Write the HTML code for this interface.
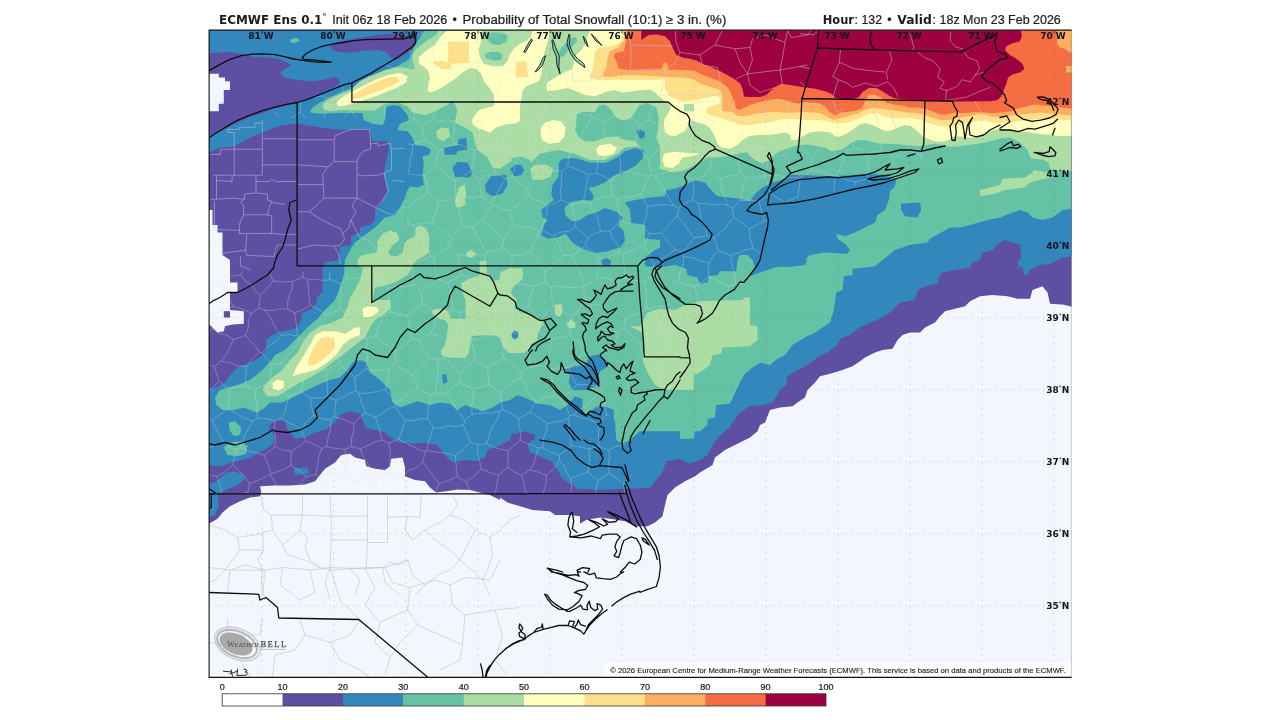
<!DOCTYPE html>
<html lang="en"><head><meta charset="utf-8"><title>ECMWF Ens 0.1 Probability of Total Snowfall</title>
<style>
html,body{margin:0;padding:0;background:#fff;}
body{width:1280px;height:720px;overflow:hidden;position:relative;font-family:"DejaVu Sans","Liberation Sans",sans-serif;}
svg{position:absolute;left:0;top:0;display:block;}
text{font-family:"DejaVu Sans","Liberation Sans",sans-serif;fill:#1c1c1c;}
.t{font-size:12.4px;}
.b{font-weight:bold;}
.ll{font-size:9px;font-weight:bold;fill:#15151f;}
.cb{font-size:9px;fill:#222;}
.cp{font-size:6.6px;fill:#222;}
</style></head><body>
<svg width="1280" height="720" viewBox="0 0 1280 720">
<defs><clipPath id="mapclip"><rect x="209" y="30.5" width="862.5" height="647"/></clipPath></defs>
<rect x="0" y="0" width="1280" height="720" fill="#ffffff"/>
<g clip-path="url(#mapclip)">
<rect x="209" y="30" width="863" height="648" fill="#f3f6fc"/>

<polygon fill="#5e4fa2" points="209.0,523.8 217.5,518.8 222.5,512.5 230.0,506.2 240.0,501.2 250.0,497.5 260.0,496.2 261.2,491.2 260.0,486.2 275.0,485.5 290.0,485.5 305.0,484.5 315.0,481.2 320.0,475.0 325.0,468.8 335.0,462.5 341.2,455.0 350.0,453.8 355.0,457.5 365.0,460.0 366.2,466.2 375.0,468.8 385.0,470.0 390.0,466.2 391.2,458.8 402.5,457.5 405.0,467.5 405.0,476.2 415.0,480.0 425.0,481.2 430.0,487.5 436.2,492.5 446.2,491.2 457.5,489.5 470.0,490.0 480.0,492.5 490.0,495.0 500.0,500.0 500.0,497.5 507.5,502.5 520.0,506.2 532.5,510.0 550.0,511.2 555.0,515.0 570.0,515.0 580.0,516.2 580.0,523.8 586.2,520.0 600.0,517.5 610.0,518.8 625.0,521.2 635.0,526.2 647.5,526.2 655.0,522.5 662.5,516.2 665.0,505.0 667.5,495.0 675.0,487.5 685.0,481.2 695.0,476.2 700.0,472.5 712.5,465.0 715.0,457.5 725.0,450.0 737.5,443.8 750.0,437.5 757.5,431.2 760.0,425.0 765.0,422.5 770.0,410.0 780.0,407.5 780.0,407.5 792.5,406.2 797.5,402.5 805.0,397.5 807.5,390.0 815.0,382.5 820.0,376.2 830.0,373.8 842.5,370.0 852.5,366.2 860.0,361.2 865.0,357.5 875.0,352.5 882.5,350.0 892.5,348.8 897.5,340.0 902.5,335.0 910.0,332.5 920.0,332.5 925.0,327.5 935.0,322.5 940.0,316.2 945.0,311.2 955.0,308.8 965.0,306.2 970.0,301.2 980.0,296.2 992.5,295.0 1007.5,296.2 1017.5,298.8 1030.0,298.8 1032.5,290.0 1042.5,286.2 1047.5,292.5 1050.0,303.8 1062.5,304.5 1075.0,307.5 1075.0,25.0 205.0,25.0 205.0,523.8"/>
<polygon fill="#3288bd" points="205.0,25.0 1075.0,25.0 1075.0,256.2 1062.5,257.5 1050.0,263.8 1040.0,265.0 1030.0,270.0 1027.5,275.0 1030.0,275.0 1023.8,275.0 1022.5,267.5 1013.8,266.2 1020.0,270.0 1017.5,262.5 1021.2,257.5 1020.0,245.0 1005.0,240.0 1000.0,242.5 992.5,250.0 982.5,252.5 980.0,260.0 972.5,262.5 970.0,267.5 955.0,270.0 942.5,272.5 940.0,275.0 937.5,283.8 930.0,285.0 917.5,290.0 915.0,300.0 900.0,302.5 890.0,312.5 880.0,318.8 870.0,322.5 857.5,328.8 850.0,335.0 840.0,338.8 837.5,345.0 827.5,352.5 817.5,357.5 807.5,365.0 797.5,370.0 787.5,376.2 786.2,385.0 780.0,390.0 777.5,395.0 772.5,402.5 762.5,405.0 750.0,406.2 740.0,412.5 732.5,422.5 730.0,427.5 720.0,435.0 712.5,445.0 707.5,455.0 700.0,460.0 690.0,463.8 680.0,458.8 666.2,461.2 662.5,472.5 655.0,481.2 650.0,488.0 625.0,488.8 600.0,490.0 577.5,488.8 572.5,485.0 562.5,478.8 557.5,470.0 552.5,462.5 542.5,457.5 530.0,452.5 527.5,445.0 532.5,438.8 525.0,433.8 515.0,435.0 512.5,432.5 510.0,440.0 500.0,445.0 487.5,450.0 485.0,457.5 475.0,461.2 465.0,460.0 452.5,462.5 445.0,455.0 437.5,445.0 425.0,442.5 415.0,443.8 400.0,442.5 390.0,437.5 385.0,432.5 375.0,430.0 365.0,427.5 363.8,422.5 360.0,413.8 350.0,411.2 340.0,415.0 335.0,422.5 325.0,430.0 325.0,430.0 315.0,432.5 305.0,437.5 295.0,438.8 287.5,430.0 287.5,430.0 285.0,421.2 275.0,420.0 270.0,425.0 268.8,430.0 271.2,430.0 275.0,437.5 272.5,445.0 262.5,451.2 250.0,457.5 232.5,462.5 220.0,466.2 205.0,465.0 205.0,390.0 215.0,387.5 225.0,382.5 230.0,375.0 237.5,367.5 250.0,362.5 260.0,357.5 266.2,350.0 266.2,340.0 272.5,335.0 282.5,331.2 295.0,328.8 300.0,322.5 302.5,312.5 310.0,310.0 316.2,303.8 317.5,296.2 322.5,292.5 322.5,270.0 322.5,270.0 325.0,262.5 338.8,260.0 340.0,246.2 351.2,245.0 351.2,236.2 360.0,232.5 360.0,227.5 370.0,225.0 375.0,220.0 375.0,210.0 380.0,205.0 387.5,192.5 386.2,185.0 383.8,175.0 385.0,165.0 388.8,150.0 387.5,141.2 372.5,141.2 370.0,130.0 360.0,128.8 345.0,130.0 330.0,128.8 312.5,126.2 297.5,123.8 282.5,125.0 265.0,131.2 250.0,137.5 235.0,146.2 220.0,147.5 205.0,154.5"/>
<polygon fill="#3288bd" points="205.0,483.8 215.0,482.5 225.0,473.8 232.5,471.2 242.5,473.8 245.0,478.8 237.5,485.0 225.0,490.0 217.5,495.0 218.8,505.0 215.0,515.0 205.0,518.8"/>
<polygon fill="#3288bd" points="293.8,468.8 307.5,467.5 308.8,473.8 295.0,475.0"/>
<polygon fill="#66c2a5" points="425.0,25.0 425.0,30.0 420.0,37.5 415.0,45.0 412.5,51.2 410.0,58.8 395.0,67.5 385.0,72.5 375.0,77.5 362.5,83.8 350.0,88.8 340.0,92.5 330.0,97.5 320.0,102.5 312.5,107.5 310.0,112.5 320.0,113.8 340.0,113.0 362.5,113.0 363.8,120.0 372.5,123.8 382.5,125.0 385.0,120.0 386.2,107.5 392.5,105.0 400.0,106.2 407.5,115.0 408.8,120.0 400.0,123.8 397.5,130.0 407.5,131.2 412.5,137.5 415.0,145.0 425.0,146.2 431.2,150.0 428.8,155.0 422.5,156.2 423.8,165.0 422.5,175.0 423.8,185.0 417.5,187.5 410.0,186.2 406.2,192.5 405.0,197.5 400.0,207.5 395.0,215.0 385.0,217.5 380.0,222.5 375.0,227.5 365.0,235.0 355.0,242.5 350.0,250.0 345.0,260.0 343.8,275.0 340.0,287.5 335.0,300.0 325.0,310.0 317.5,318.8 310.0,325.0 302.5,332.5 295.0,340.0 285.0,350.0 275.0,355.0 272.5,358.8 262.5,370.0 250.0,380.0 237.5,385.0 227.5,387.5 220.0,390.0 215.0,397.5 216.2,405.0 222.5,410.0 235.0,410.0 243.8,407.5 250.0,410.0 257.5,412.5 265.0,407.5 270.0,402.5 282.5,402.5 292.5,397.5 305.0,391.2 317.5,385.0 330.0,380.0 340.0,377.5 347.5,370.0 352.5,362.5 360.0,360.0 366.2,362.5 370.0,372.5 380.0,380.0 390.0,390.0 392.5,402.5 400.0,407.5 410.0,403.8 417.5,401.2 430.0,405.0 440.0,402.5 450.0,403.8 457.5,410.0 465.0,405.0 472.5,407.5 482.5,411.2 492.5,407.5 500.0,402.5 510.0,400.0 517.5,395.0 527.5,398.8 537.5,403.8 550.0,405.0 560.0,410.0 567.5,405.0 575.0,396.2 582.5,398.8 582.5,410.0 586.2,415.0 595.0,407.5 605.0,406.2 613.8,410.0 613.8,420.0 615.0,420.0 616.2,440.0 622.5,443.8 630.0,440.0 640.0,431.2 680.0,431.2 680.0,438.8 693.8,438.8 695.0,431.2 700.0,431.2 707.5,425.0 707.5,418.8 715.0,417.5 716.2,405.0 730.0,403.8 740.0,382.5 745.0,373.8 752.5,367.5 760.0,362.5 770.0,365.0 777.5,358.8 785.0,355.0 792.5,345.0 805.0,337.5 815.0,332.5 830.0,322.5 833.8,310.0 836.2,292.5 842.5,290.0 843.8,276.2 852.5,275.0 852.5,268.8 865.0,267.5 875.0,266.2 895.0,250.0 910.0,245.0 927.5,242.5 930.0,238.8 950.0,227.5 960.0,227.5 970.0,225.0 987.5,220.0 1000.0,217.5 1012.5,212.5 1020.0,210.0 1027.5,212.5 1032.5,217.5 1042.5,220.0 1052.5,217.5 1062.5,210.0 1075.0,208.8 1075.0,25.0"/>
<polygon fill="#66c2a5" points="228.8,422.5 235.0,421.2 241.2,427.5 240.0,435.0 233.8,436.2 229.5,430.0"/>
<polygon fill="#66c2a5" points="223.8,447.5 230.0,442.5 241.2,441.2 247.5,446.2 246.2,453.8 237.5,456.2 227.5,455.0"/>
<polygon fill="#66c2a5" points="290.0,39.5 296.2,37.5 300.0,40.5 295.0,43.0 290.5,42.0"/>
<polygon fill="#abdda4" points="438.0,25.0 437.5,33.8 430.0,38.8 422.5,43.8 416.2,48.8 412.5,55.0 412.5,61.2 415.0,67.5 412.5,69.4 405.0,67.5 395.0,67.5 385.0,70.0 376.2,73.8 367.5,77.5 360.0,81.2 350.0,90.5 340.0,94.2 330.0,98.8 323.8,103.0 322.5,108.8 330.0,111.2 342.5,110.0 360.0,110.5 375.0,110.5 385.0,103.8 397.5,102.5 407.5,106.2 412.5,112.5 425.0,115.0 435.0,111.2 447.5,105.0 452.5,100.0 457.5,110.0 455.0,122.5 465.0,127.5 472.5,132.5 475.0,142.5 477.5,150.0 487.5,157.5 492.5,167.5 500.0,168.8 512.5,160.0 510.0,158.8 520.0,156.2 530.0,160.0 531.2,162.5 540.0,153.8 557.5,150.0 575.0,153.8 590.0,160.0 605.0,160.0 617.5,153.8 625.0,147.5 640.0,146.2 650.0,150.0 655.0,160.0 660.0,168.8 672.5,172.5 685.0,170.0 697.5,163.8 707.5,157.5 715.0,157.5 727.5,156.3 740.0,153.1 747.5,152.5 750.0,156.3 755.0,160.0 762.0,163.5 770.0,160.0 772.5,156.3 780.0,151.3 790.0,147.5 798.8,145.0 807.5,144.4 817.5,146.3 825.0,147.5 831.3,151.3 840.0,150.0 845.0,147.5 850.0,143.8 856.3,140.6 865.0,140.0 872.5,141.9 881.3,143.8 890.0,143.8 900.0,144.4 910.0,145.6 920.0,146.3 927.5,145.0 935.0,143.8 943.8,145.0 950.0,146.9 958.8,146.3 967.5,145.0 977.5,143.8 987.5,141.9 1000.0,138.5 1010.0,137.5 1020.0,142.5 1027.5,150.0 1031.2,158.8 1042.5,159.5 1048.8,162.5 1050.0,168.8 1060.0,171.2 1075.0,171.2 1075.0,25.0"/>
<polygon fill="#abdda4" points="357.5,260.0 361.2,255.6 370.0,253.8 376.9,252.5 377.5,241.2 382.5,233.8 390.0,230.6 396.2,232.5 399.4,237.5 398.1,241.2 392.5,245.6 388.1,252.5 390.0,255.6 397.5,256.2 402.5,252.5 405.0,242.5 407.5,240.0 415.0,236.2 416.2,226.9 421.2,225.6 426.2,228.8 429.4,236.2 428.8,252.5 423.8,256.2 417.5,259.4 412.5,265.0 411.2,270.0 405.0,273.8 395.0,275.0 392.5,281.2 385.0,285.0 375.0,287.5 370.0,290.0 362.5,290.0 366.2,281.2 367.5,270.0 362.5,267.5 357.5,265.0"/>
<polygon fill="#abdda4" points="262.5,390.0 265.0,385.0 272.5,377.5 282.5,370.0 290.0,360.0 297.5,352.5 302.5,342.5 310.0,332.5 320.0,326.2 332.5,322.5 342.5,317.5 347.5,307.5 350.0,297.5 355.0,290.0 360.0,280.0 362.5,270.0 362.5,260.0 375.0,260.0 390.0,260.0 412.5,267.5 407.5,275.0 395.0,282.5 387.5,285.0 375.0,287.5 372.5,300.0 390.0,300.0 391.2,307.5 385.0,313.8 375.0,320.0 370.0,327.5 365.0,337.5 355.0,345.0 342.5,355.0 332.5,362.5 322.5,370.0 310.0,377.5 300.0,382.5 287.5,390.0 277.5,396.2 267.5,396.2"/>
<polygon fill="#abdda4" points="431.2,310.9 437.5,308.6 445.3,309.4 448.4,312.5 451.6,318.8 465.6,318.8 465.6,301.6 461.7,289.1 460.9,283.6 468.8,278.9 478.1,275.8 479.7,275.0 479.7,260.9 485.9,260.9 486.7,273.4 490.6,275.0 493.8,281.2 500.0,278.9 506.2,273.4 512.5,268.8 521.9,268.0 523.4,275.0 520.3,281.2 514.1,285.9 510.9,292.2 512.5,295.3 517.2,300.0 514.1,307.8 520.3,312.5 529.7,314.1 537.5,318.8 543.8,323.4 540.6,328.1 537.5,334.4 537.5,340.6 531.2,343.8 529.7,350.0 523.4,353.1 509.4,353.1 503.1,346.9 500.0,337.5 493.8,335.2 481.2,335.2 471.9,335.9 470.3,343.8 468.8,353.1 465.6,357.8 451.6,357.8 442.2,356.2 440.6,351.6 445.3,343.8 446.9,334.4 448.4,325.0 445.3,320.3 439.1,318.8 432.8,314.1"/>
<polygon fill="#abdda4" points="466.4,253.9 471.1,250.8 476.6,253.9 471.9,257.0"/>
<polygon fill="#abdda4" points="554.7,304.7 561.7,303.9 562.5,312.5 558.6,317.2 555.0,314.1"/>
<polygon fill="#abdda4" points="566.4,323.4 571.1,319.5 575.8,323.4 575.0,328.1 568.8,328.1"/>
<polygon fill="#abdda4" points="630.0,326.2 640.0,326.2 647.5,312.5 660.0,308.8 675.0,310.0 685.0,305.0 700.0,301.2 742.5,300.0 743.8,297.5 750.0,297.5 750.0,325.0 757.5,326.2 757.5,340.0 750.0,346.2 722.5,347.5 721.2,353.8 712.5,355.0 710.0,365.0 700.0,372.5 693.8,375.0 693.8,390.0 665.0,390.0 655.0,385.0 647.5,372.5 642.5,360.0 645.0,342.5 642.5,332.5"/>
<polygon fill="#abdda4" points="530.0,168.8 535.0,165.0 546.2,164.5 553.0,168.8 551.2,176.2 542.5,180.0 532.5,179.5"/>
<polygon fill="#abdda4" points="980.0,190.0 1000.0,185.0 1002.5,178.8 1025.0,177.5 1035.0,170.0 1047.5,172.5 1050.0,177.5 1030.0,182.5 1025.0,187.5 1005.0,190.0 995.0,193.8 980.0,196.2"/>
<polygon fill="#abdda4" points="436.2,131.2 441.2,127.5 448.8,128.8 450.0,136.2 443.8,141.2 437.5,138.8"/>
<polygon fill="#abdda4" points="455.0,200.0 458.8,187.5 465.0,184.5 466.2,195.0 462.5,206.2 456.2,207.5"/>
<polygon fill="#abdda4" points="466.2,252.5 471.2,250.0 476.2,253.8 472.5,257.5 467.5,257.0"/>
<polygon fill="#abdda4" points="466.2,253.1 471.2,250.6 476.2,253.8 471.9,257.5 467.5,256.2"/>
<polygon fill="#abdda4" points="455.0,202.5 457.5,200.0 465.0,200.0 465.6,204.4 460.0,207.5 456.2,206.2"/>
<polygon fill="#abdda4" points="500.0,272.5 510.0,268.0 521.2,270.0 522.5,280.0 500.0,280.0"/>
<polygon fill="#ffffbf" points="447.5,25.0 447.5,30.0 440.0,37.5 435.0,45.0 425.0,51.2 418.8,57.5 418.8,63.8 425.0,67.5 428.1,71.2 430.0,77.5 428.1,85.0 427.5,91.2 431.2,92.5 440.0,88.8 447.5,83.8 455.0,78.8 462.5,72.5 470.0,68.1 476.2,68.8 481.2,73.8 483.8,81.2 490.0,88.8 493.8,95.0 493.8,106.2 487.5,107.5 478.8,110.0 475.0,115.0 472.0,120.0 473.0,125.0 478.0,128.5 485.0,130.5 490.0,133.0 495.0,128.0 505.0,124.5 515.0,123.5 520.0,121.0 520.0,115.0 520.0,106.2 521.2,100.0 522.5,91.2 526.2,86.2 532.5,83.8 538.8,81.2 541.2,75.0 542.5,66.2 543.8,55.0 546.2,46.2 548.8,37.5 550.0,30.2 550.0,25.0"/>
<polygon fill="#ffffbf" points="590.0,25.0 590.0,30.6 587.5,36.2 585.0,45.0 580.0,51.2 575.0,56.2 573.8,62.5 572.5,68.8 563.8,72.5 557.5,76.2 551.2,80.0 547.5,82.5 546.2,87.5 547.5,91.2 557.5,90.0 567.5,88.1 576.2,91.2 585.0,95.0 595.0,96.2 601.2,93.8 607.5,91.2 615.0,90.0 622.5,92.5 632.5,91.2 642.5,90.0 650.0,89.4 655.0,92.5 658.8,96.2 663.8,100.0 663.6,101.5 668.3,102.5 671.2,107.2 668.3,112.9 664.6,118.5 663.8,125.0 665.0,132.5 670.0,135.5 675.0,136.3 685.0,131.0 689.0,124.0 690.0,120.0 697.5,122.5 706.3,125.0 711.3,130.0 715.0,137.5 717.5,143.8 721.3,147.5 730.0,148.8 737.5,145.0 742.5,140.0 748.8,136.3 757.5,135.0 767.5,135.0 777.5,133.8 786.3,132.5 790.0,135.0 791.3,140.0 796.3,140.0 802.5,136.3 810.0,132.5 820.0,131.3 830.0,132.5 835.0,136.3 840.0,136.8 846.3,133.8 852.5,130.0 858.8,125.0 865.0,123.1 872.5,125.0 880.0,128.8 886.3,131.3 892.5,130.0 898.8,126.9 905.0,125.0 911.3,126.3 917.5,131.3 922.5,136.3 927.5,138.8 935.0,141.3 942.5,141.9 948.8,140.0 952.5,137.5 958.8,136.3 967.5,137.5 975.0,137.5 981.3,135.0 987.5,132.5 993.8,130.0 1000.0,128.8 1020.0,131.0 1040.0,134.0 1060.0,136.0 1075.0,135.8 1075.0,25.0"/>
<polygon fill="#ffffbf" points="541.2,127.5 545.0,122.5 552.5,120.0 561.2,121.2 565.5,127.5 564.5,136.2 558.8,142.5 548.8,143.8 542.0,140.0 540.5,133.8"/>
<polygon fill="#ffffbf" points="596.2,148.8 600.0,145.0 610.0,143.8 617.0,147.5 613.8,153.8 605.0,156.2 597.5,155.0"/>
<polygon fill="#ffffbf" points="663.8,153.8 675.0,151.8 690.0,153.0 700.0,153.8 692.5,156.2 682.5,157.5 678.8,163.8 672.5,168.0 665.0,167.0 662.5,160.0"/>
<polygon fill="#ffffbf" points="336.2,103.8 340.0,98.8 350.0,92.5 362.5,86.2 375.0,80.0 387.5,75.0 400.0,73.0 407.5,76.2 406.2,82.5 397.5,87.5 385.0,92.5 372.5,97.5 360.0,101.2 347.5,105.0 338.8,106.2"/>
<polygon fill="#ffffbf" points="362.5,308.8 367.5,306.2 377.5,307.5 378.8,311.2 372.5,316.2 363.8,317.5"/>
<polygon fill="#ffffbf" points="292.5,376.2 296.2,367.5 302.5,357.5 310.0,345.0 315.0,335.0 322.5,331.2 335.0,331.2 345.0,333.8 355.0,327.5 360.0,327.5 360.0,335.0 350.0,338.8 342.5,345.0 336.2,355.0 327.5,362.5 317.5,368.8 307.5,372.5 300.0,373.8"/>
<polygon fill="#ffffbf" points="272.5,382.5 277.5,379.5 283.8,381.2 283.8,387.5 278.8,390.5 273.0,388.8"/>
<polygon fill="#fee08b" points="624.4,25.0 621.9,41.3 615.0,45.0 607.5,46.9 600.0,47.5 595.0,51.3 593.8,61.3 592.5,70.0 590.0,75.0 591.3,78.8 601.3,80.6 615.0,79.6 632.5,80.0 645.0,80.0 657.5,80.0 665.0,79.0 665.0,88.3 668.3,95.0 673.0,97.8 679.7,100.6 685.3,101.5 696.7,99.7 706.1,97.8 715.5,95.9 720.3,97.8 721.2,102.5 717.4,104.4 709.9,106.3 706.1,109.1 706.1,112.9 711.8,115.7 720.3,117.6 726.9,120.4 734.4,122.2 740.0,125.0 750.0,125.0 760.0,123.5 770.0,122.5 777.5,120.0 787.5,118.8 797.5,119.4 807.5,120.0 817.5,120.0 827.5,121.3 835.0,123.8 840.0,123.5 847.5,122.5 855.0,120.0 861.3,117.5 868.8,113.8 877.5,113.1 885.0,116.3 892.5,118.8 900.0,118.1 907.5,117.5 915.0,118.8 921.3,120.0 927.5,122.5 935.0,125.0 942.5,126.3 950.0,126.3 957.5,125.0 965.0,123.1 975.0,121.3 983.8,120.0 992.5,122.5 1000.0,123.1 1020.0,121.0 1040.0,118.5 1055.0,119.5 1075.0,120.8 1075.0,25.0"/>
<polygon fill="#fee08b" points="352.5,95.0 362.5,88.8 375.0,82.5 387.5,77.5 397.5,77.0 400.0,81.2 392.5,85.5 380.0,90.5 367.5,95.0 357.5,98.8 353.0,98.8"/>
<polygon fill="#fee08b" points="307.5,365.0 310.0,355.0 315.0,345.0 320.0,338.8 327.5,336.2 333.8,338.8 335.0,346.2 330.0,353.8 322.5,360.0 315.0,365.0"/>
<polygon fill="#fee08b" points="448.1,41.9 468.8,41.2 469.4,63.1 451.2,63.8 450.6,68.8 440.0,68.8 440.0,62.5 448.1,61.9"/>
<polygon fill="#fee08b" points="516.2,61.9 526.9,61.2 528.1,76.9 515.6,77.5"/>
<polygon fill="#fee08b" points="432.5,61.9 440.0,60.6 450.0,62.5 451.2,66.2 442.5,67.5 435.0,65.6"/>
<polygon fill="#fdae61" points="625.6,25.0 623.8,41.3 617.5,47.5 610.0,51.3 607.5,57.5 606.3,67.5 603.8,72.5 602.5,76.3 610.0,76.9 620.0,75.4 632.5,75.0 645.0,75.6 657.5,76.3 668.3,77.0 682.5,77.5 692.9,78.9 700.4,83.6 708.0,86.4 715.5,88.3 720.3,90.2 722.2,95.9 722.2,111.0 732.5,111.9 736.3,115.5 745.0,116.3 755.0,114.0 765.0,112.5 775.0,111.9 785.0,112.5 795.0,112.5 802.5,111.9 812.5,112.5 820.0,113.1 827.5,116.9 833.8,120.0 840.0,118.5 850.0,115.6 858.8,113.1 865.0,110.0 872.5,108.1 881.3,108.8 890.0,110.0 898.8,111.3 907.5,112.5 915.0,113.1 925.0,115.0 932.5,117.5 940.0,120.0 948.8,120.0 957.5,118.1 965.0,116.9 975.0,115.0 982.5,113.8 990.0,116.3 1000.0,116.9 1020.0,114.5 1040.0,112.5 1055.0,114.0 1075.0,115.8 1075.0,25.0"/>
<polygon fill="#f46d43" points="627.5,25.0 626.3,41.3 623.8,51.3 615.0,53.1 613.8,56.3 616.3,61.3 618.8,68.8 631.3,70.2 645.0,70.2 661.7,69.6 663.6,62.6 667.2,62.6 668.0,69.6 682.5,70.0 693.8,70.4 701.4,74.2 710.8,77.9 720.3,81.7 727.8,87.4 730.7,93.1 733.4,100.0 736.3,108.5 738.6,110.0 745.0,107.8 750.0,105.0 760.0,101.8 770.0,100.0 777.5,98.8 785.0,100.0 792.5,102.5 798.8,103.8 802.5,101.9 810.0,102.5 818.8,103.1 825.0,106.3 828.8,111.3 835.0,115.6 840.0,112.5 847.5,111.9 856.3,110.6 862.5,107.5 865.0,101.3 868.8,95.0 873.8,94.4 881.3,97.5 886.3,102.5 892.5,104.4 902.5,105.6 910.0,107.5 917.5,107.5 925.0,108.8 932.5,111.3 940.0,114.4 946.3,114.4 955.0,112.5 965.0,113.1 975.0,111.9 983.8,112.5 993.8,113.1 1000.0,112.5 1010.0,111.5 1020.0,108.0 1035.0,104.5 1050.0,106.0 1075.0,109.0 1075.0,72.5 1066.0,72.5 1066.0,66.0 1075.0,66.0 1075.0,53.8 1068.8,51.9 1066.3,49.4 1060.0,47.5 1056.9,43.8 1056.9,25.0"/>
<polygon fill="#9e0142" points="641.3,25.0 641.3,40.0 648.8,35.0 657.5,34.4 665.0,36.3 670.0,41.3 672.5,47.5 676.3,55.0 682.5,57.5 690.0,58.8 696.7,60.5 704.2,64.7 711.8,67.6 720.3,71.3 728.8,76.1 734.4,78.9 740.1,83.6 742.9,90.2 743.9,96.5 748.8,97.0 760.0,96.9 766.3,95.0 770.0,91.3 776.3,86.3 781.3,83.8 790.0,85.0 802.5,86.9 815.0,88.8 825.0,91.3 831.3,93.8 835.0,97.5 842.5,99.6 852.5,99.4 858.8,96.9 862.5,91.9 868.8,88.1 876.3,88.1 882.5,91.3 888.8,95.6 893.8,98.1 902.5,99.4 915.0,100.0 927.5,100.6 942.5,101.5 961.3,101.5 977.5,101.3 990.0,101.3 997.5,100.0 1001.3,96.3 1003.8,90.0 1006.3,83.8 1008.1,77.5 1012.5,74.4 1020.0,72.5 1024.4,68.8 1022.5,63.8 1016.3,58.8 1010.0,55.0 1005.0,50.0 1006.3,46.3 1011.3,43.8 1020.0,41.3 1021.9,36.3 1020.0,25.0"/>
<polygon fill="#5e4fa2" points="205.0,53.8 217.5,52.5 227.5,52.0 240.0,53.8 255.0,57.0 270.0,57.5 282.5,60.0 291.2,65.0 285.0,68.8 280.0,73.0 285.0,78.0 297.5,80.0 312.5,81.2 325.0,79.5 335.0,77.0 339.5,79.5 338.8,84.5 331.2,88.0 322.5,92.0 310.0,98.0 297.5,102.5 285.0,106.2 275.0,108.0 262.5,113.0 250.0,117.0 237.5,122.5 225.0,128.0 215.0,133.0 205.0,137.5"/>
<polygon fill="#5e4fa2" points="330.0,46.2 336.2,42.0 350.0,39.5 365.0,37.0 380.0,34.5 395.0,33.8 408.8,35.5 415.5,39.5 415.5,45.0 410.0,51.2 400.0,57.5 396.2,59.5 391.2,57.5 386.2,52.0 377.5,50.0 362.5,51.0 350.0,52.5 338.8,52.0 332.5,49.5"/>
<polygon fill="#abdda4" points="482.5,28.8 481.2,40.0 478.8,50.0 480.0,57.5 483.8,63.8 492.5,66.2 502.5,66.2 507.5,61.2 510.0,53.8 513.8,48.8 520.0,43.8 527.5,40.0 531.2,36.2 532.5,28.8"/>
<polygon fill="#66c2a5" points="487.5,35.0 492.5,32.5 502.5,32.5 507.5,35.6 506.9,41.2 500.0,45.0 492.5,44.4 488.1,40.6"/>
<polygon fill="#66c2a5" points="484.4,54.4 490.0,51.9 498.8,51.9 502.5,55.0 501.2,60.0 493.8,60.6 486.2,58.8"/>
<polygon fill="#66c2a5" points="561.3,57.5 558.8,52.5 561.3,47.5 567.5,42.5 572.5,37.5 576.3,37.5 576.9,41.3 572.5,46.3 567.5,51.3 563.8,56.3"/>
<polygon fill="#abdda4" points="684.0,104.0 694.0,104.0 694.0,111.5 684.0,111.5"/>
<polygon fill="#66c2a5" points="576.2,123.8 577.0,113.8 582.5,112.0 595.0,112.0 598.8,105.5 605.0,104.5 611.2,110.0 616.2,117.5 622.5,120.5 630.0,118.8 635.0,112.5 638.8,105.5 647.5,103.0 656.2,107.5 658.8,117.5 658.0,130.0 656.2,137.5 660.0,146.2 660.0,167.5 652.5,157.5 648.8,150.0 640.0,146.2 635.0,141.2 625.0,140.0 617.5,136.2 605.0,137.5 595.0,141.2 585.0,141.2 578.8,137.5 575.0,130.0"/>
<polygon fill="#3288bd" points="558.8,162.5 562.5,158.8 575.0,158.0 590.0,162.5 605.0,163.0 615.0,158.8 625.0,151.2 635.0,148.2 643.8,150.0 642.5,158.8 635.0,166.2 622.5,172.5 612.5,176.2 605.0,182.5 596.2,186.2 588.8,188.0 593.8,196.2 592.5,200.5 582.5,200.0 571.2,202.0 564.5,207.5 565.5,215.5 572.0,221.2 580.0,220.0 587.5,215.0 597.5,212.0 605.0,208.0 617.0,212.0 622.5,217.5 618.0,225.0 623.8,231.2 625.0,241.2 620.0,247.5 607.5,251.2 595.0,253.0 582.5,248.8 572.5,242.5 565.5,233.8 557.5,237.5 547.5,238.8 541.2,235.0 543.8,225.0 547.5,220.0 542.5,217.5 541.2,210.0 547.5,205.0 553.8,200.0 551.2,195.0 552.5,185.0 558.8,176.2"/>
<polygon fill="#3288bd" points="625.0,202.5 635.0,200.0 650.0,197.5 665.0,196.2 666.2,190.0 675.0,188.8 685.0,185.0 695.0,180.0 705.0,182.5 710.0,188.8 717.5,196.2 730.0,197.5 740.0,198.8 750.0,201.2 755.0,193.8 762.5,187.5 772.5,182.5 782.5,180.0 790.0,175.0 805.0,175.0 830.0,176.2 855.0,175.0 870.0,173.8 885.0,175.0 896.2,180.0 895.0,186.2 890.0,191.2 888.8,200.0 885.0,210.0 877.5,215.0 875.0,222.5 865.0,227.5 855.0,232.5 845.0,236.2 836.2,233.8 837.5,238.8 845.0,243.8 850.0,250.0 847.5,253.8 825.0,252.5 810.0,255.0 805.0,260.0 790.0,266.2 805.0,262.5 792.5,265.0 775.0,267.5 760.0,272.5 750.0,276.2 755.0,267.5 752.5,260.0 747.5,255.0 740.0,255.0 737.5,260.0 736.2,271.2 720.0,271.2 717.5,275.0 708.8,276.2 707.5,282.5 700.0,283.8 697.5,277.5 687.5,275.0 686.2,268.8 675.0,265.0 660.0,267.5 645.0,266.2 645.0,257.5 655.0,250.0 660.0,247.5 660.0,240.0 645.0,238.8 645.0,225.0 631.2,223.8 630.0,210.0"/>
<polygon fill="#3288bd" points="900.8,203.8 920.0,202.5 921.2,210.0 917.5,217.5 905.0,216.2 901.2,210.0"/>
<polygon fill="#3288bd" points="780.0,260.0 807.5,260.0 805.0,265.0 790.0,267.0 780.0,266.2"/>
<polygon fill="#3288bd" points="511.2,168.8 515.0,164.5 521.2,165.0 524.2,170.0 521.2,175.0 513.8,176.2"/>
<polygon fill="#3288bd" points="500.0,175.0 506.2,176.2 503.8,185.0 500.0,191.2 495.0,182.5"/>
<polygon fill="#3288bd" points="636.2,131.2 640.0,129.5 645.0,132.5 644.5,138.0 640.0,138.8"/>
<polygon fill="#3288bd" points="601.2,260.0 606.2,257.5 611.2,261.2 610.0,266.2 602.5,265.5"/>
<polygon fill="#3288bd" points="443.8,147.5 457.5,145.5 458.8,138.8 466.2,138.0 467.5,149.5 457.5,151.2 456.2,154.5 445.0,155.0"/>
<polygon fill="#3288bd" points="452.5,167.5 457.5,162.0 467.5,162.5 472.5,172.5 470.0,177.5 455.0,177.0"/>
<polygon fill="#3288bd" points="485.0,185.0 491.2,176.2 506.2,175.0 507.5,185.0 502.5,193.8 492.5,196.2 486.2,192.5"/>
<polygon fill="#3288bd" points="510.0,168.8 516.2,164.5 521.2,166.2 521.2,173.8 513.8,176.2"/>
<polygon fill="#3288bd" points="563.8,370.0 575.0,366.2 585.0,365.0 590.0,356.2 598.8,354.5 606.2,360.0 606.2,367.5 600.0,371.2 597.5,380.0 598.8,385.0 587.5,390.0 572.5,390.0 568.8,382.5 570.0,375.0"/>
<polygon fill="#3288bd" points="442.0,375.0 446.2,373.8 447.5,382.5 443.0,383.8"/>
<polygon fill="#3288bd" points="511.7,332.8 514.8,330.5 518.8,332.8 518.0,337.5 514.1,339.4 511.7,336.7"/>
<polygon fill="#5e4fa2" points="512.5,440.0 515.0,433.8 525.0,431.2 535.0,435.0 535.0,440.0"/>
<polygon fill="#f3f6fc" points="205.0,73.8 218.8,73.8 218.8,77.5 225.0,77.5 225.0,81.2 230.0,81.2 230.0,90.0 223.8,90.0 223.8,103.8 218.8,103.8 218.8,111.2 205.0,111.2"/>
<polygon fill="#f3f6fc" points="205.0,210.0 212.5,210.0 212.5,225.0 217.5,225.0 217.5,232.5 222.5,232.5 222.5,255.0 230.0,260.0 230.0,280.0 205.0,280.0"/>
<polygon fill="#f3f6fc" points="205.0,260.0 230.0,260.0 230.0,282.5 237.5,282.5 237.5,292.5 230.0,292.5 230.0,310.0 243.8,311.2 243.8,323.8 232.5,324.5 225.0,326.2 223.8,331.2 217.5,332.5 210.0,325.0 205.0,325.0"/>
<polygon fill="#5e4fa2" points="223.8,311.2 230.0,311.2 230.0,317.5 223.8,317.5"/>
<g stroke="#20242f" stroke-opacity="0.17" stroke-width="0.8" stroke-dasharray="2 4" fill="none"><line x1="261.8" y1="30" x2="261.8" y2="678"/><line x1="333.8" y1="30" x2="333.8" y2="678"/><line x1="405.8" y1="30" x2="405.8" y2="678"/><line x1="477.8" y1="30" x2="477.8" y2="678"/><line x1="549.8" y1="30" x2="549.8" y2="678"/><line x1="621.8" y1="30" x2="621.8" y2="678"/><line x1="693.8" y1="30" x2="693.8" y2="678"/><line x1="765.8" y1="30" x2="765.8" y2="678"/><line x1="837.8" y1="30" x2="837.8" y2="678"/><line x1="909.8" y1="30" x2="909.8" y2="678"/><line x1="981.8" y1="30" x2="981.8" y2="678"/><line x1="1053.8" y1="30" x2="1053.8" y2="678"/><line x1="209" y1="101.8" x2="1072" y2="101.8"/><line x1="209" y1="173.8" x2="1072" y2="173.8"/><line x1="209" y1="245.8" x2="1072" y2="245.8"/><line x1="209" y1="317.8" x2="1072" y2="317.8"/><line x1="209" y1="389.8" x2="1072" y2="389.8"/><line x1="209" y1="461.8" x2="1072" y2="461.8"/><line x1="209" y1="533.8" x2="1072" y2="533.8"/><line x1="209" y1="605.8" x2="1072" y2="605.8"/></g>
<g stroke="#d8dbe8" stroke-opacity="0.42" stroke-width="0.75" fill="none" stroke-linejoin="round"><path d="M356.7 118.0 L355.7 117.2 L351.4 110.5 M351.4 110.5 L343.6 117.5 L343.3 118.0 M664.9 392.8 L660.0 389.9 M683.2 367.5 L683.5 361.7 M660.0 389.9 L659.5 380.8 L660.0 371.7 L658.6 362.7 M683.5 361.7 L675.4 358.7 L666.9 357.7 M658.6 362.7 L666.9 357.7 M642.2 354.4 L640.0 343.5 M642.2 354.4 L650.3 358.7 L658.6 362.7 M640.0 343.5 L647.3 339.6 L653.6 334.1 L660.8 330.0 M666.9 357.7 L667.6 349.3 L669.5 341.1 L671.5 332.9 M671.5 332.9 L660.8 330.0 M527.0 494.0 L524.7 489.2 L524.0 481.9 L521.1 475.3 M521.1 475.3 L530.0 469.9 M543.0 493.6 L545.8 484.6 L546.5 475.2 M546.5 475.2 L538.4 472.2 L530.0 469.9 M653.3 275.9 L655.7 276.3 M674.0 280.8 L676.9 281.9 M653.3 275.9 L644.1 282.0 M650.2 309.2 L656.7 306.4 L664.1 306.6 L670.2 303.5 M650.2 309.2 L646.6 307.6 M646.6 307.6 L646.4 299.0 L646.1 290.4 L644.1 282.0 M640.0 343.5 L635.3 337.7 L629.5 333.3 L623.5 329.0 M623.5 329.0 L625.8 319.0 M660.8 330.0 L658.3 322.6 L654.8 315.6 L650.2 309.2 M646.6 307.6 L640.1 312.2 L632.9 315.6 L625.8 319.0 M322.1 95.9 L315.2 97.2 L313.5 97.7 M322.1 95.9 L325.7 97.7 M325.7 97.7 L326.2 106.0 L324.7 114.2 L324.2 118.0 M300.1 112.1 L300.9 102.5 M300.1 112.1 L305.3 118.0 M351.4 110.5 L351.7 99.2 M325.7 97.7 L334.6 96.8 L343.6 95.9 M351.7 99.2 L343.6 95.9 M412.6 144.5 L407.0 143.6 M412.6 144.5 L412.3 152.0 L410.2 159.2 L409.6 166.6 L408.0 173.9 M424.3 175.4 L430.8 170.5 L436.5 164.8 M424.3 175.4 L416.1 174.9 L408.0 173.9 M436.5 164.8 L436.7 157.6 L439.3 151.0 M439.3 151.0 L432.8 144.6 L424.8 140.2 M424.8 140.2 L412.6 144.5 M642.2 354.4 L636.4 360.9 L629.8 366.5 M623.5 329.0 L618.3 331.9 M618.3 331.9 L615.7 340.3 L614.0 349.0 L613.3 350.6 M615.7 360.5 L616.6 361.1 L623.8 362.5 L629.8 366.5 M636.5 394.0 L628.0 388.1 M636.5 394.0 L644.3 392.2 L652.4 392.5 L660.0 389.9 M629.8 366.5 L630.4 373.8 L627.4 380.8 L628.0 388.1 M608.8 449.8 L609.7 457.6 L608.3 465.5 L609.5 473.3 M608.8 449.8 L617.9 445.9 L625.8 444.5 M609.5 473.3 L616.4 478.3 L623.7 482.8 M623.7 482.8 L631.2 476.4 L632.4 474.8 M689.7 358.4 L683.5 361.7 M678.6 281.3 L686.2 284.5 L694.3 286.7 M694.3 286.7 L696.9 293.4 L697.9 300.7 L701.0 307.3 M701.0 307.3 L695.6 310.1 M671.5 332.9 L681.9 328.7 M689.5 335.4 L688.8 334.6 L681.9 328.7 M681.9 328.7 L683.1 324.1 M360.5 448.9 L351.7 446.7 M360.5 448.9 L367.6 445.8 L374.4 442.0 L382.0 440.0 M351.7 446.7 L351.4 439.0 L353.8 431.5 L353.8 423.8 M375.2 417.2 L378.0 424.7 L380.3 432.2 L382.0 440.0 M375.2 417.2 L365.7 413.2 M365.7 413.2 L359.0 417.6 L353.8 423.8 M436.2 393.2 L436.4 384.8 L438.2 376.4 L437.5 367.9 L438.8 359.6 M436.2 393.2 L445.1 393.3 M445.1 393.3 L452.0 387.5 L459.8 382.9 M443.8 358.0 L438.8 359.6 M443.8 358.0 L449.8 362.5 L454.3 368.7 L460.2 373.5 M460.2 373.5 L459.8 382.9 M498.6 475.3 L489.9 472.5 L481.5 469.1 M498.6 475.3 L496.6 484.3 L495.5 493.6 M495.5 493.6 L492.4 494.0 M481.5 469.1 L474.1 476.0 L465.8 481.8 M465.8 481.8 L468.7 488.3 L470.7 494.0 M521.1 475.3 L514.2 471.9 L508.1 467.2 M508.1 467.2 L498.6 475.3 M508.1 467.2 L507.9 458.9 L508.2 450.5 M530.0 469.9 L534.1 463.1 L535.9 455.2 L538.9 447.9 M508.2 450.5 L514.0 445.1 L520.2 440.5 M520.2 440.5 L529.4 444.6 L538.9 447.9 M477.5 444.8 L486.8 443.5 M477.5 444.8 L470.2 442.0 M486.8 443.5 L489.1 435.0 L492.3 427.0 L497.5 419.7 L499.7 411.3 M470.2 442.0 L466.8 433.5 L463.5 424.9 M499.7 411.3 L490.6 413.2 L481.2 413.1 L472.0 414.5 M472.0 414.5 L464.8 420.5 M464.8 420.5 L463.5 424.9 M508.2 450.5 L500.7 449.3 L493.6 446.9 L486.8 443.5 M481.5 469.1 L479.6 461.1 L477.7 453.1 L477.5 444.8 M474.1 389.4 L467.0 386.0 L459.8 382.9 M474.1 389.4 L473.2 397.8 L471.7 406.1 L472.0 414.5 M445.1 393.3 L450.9 399.5 L454.4 407.3 L460.1 413.6 L464.8 420.5 M433.1 427.8 L440.8 428.2 L448.2 425.5 L456.0 426.7 L463.5 424.9 M433.1 427.8 L427.8 418.9 M436.2 393.2 L431.0 395.2 M427.8 418.9 L427.8 410.8 L429.9 403.1 L431.0 395.2 M625.8 319.0 L621.4 312.5 M644.1 282.0 L634.3 280.7 L625.0 277.8 M625.0 277.8 L620.3 280.9 M620.3 280.9 L617.7 288.8 L617.0 294.8 M618.3 331.9 L613.6 331.6 M600.7 304.3 L599.5 304.2 L591.2 304.8 M592.4 312.6 L591.2 304.8 M583.2 352.8 L580.8 343.1 M583.2 352.8 L588.1 356.3 M585.0 340.6 L580.8 343.1 M503.7 239.4 L499.2 233.9 L493.3 229.8 L488.1 225.1 L483.3 219.9 M503.7 239.4 L502.7 247.3 M502.7 247.3 L495.3 250.8 L487.2 252.3 M487.2 252.3 L482.7 246.3 L478.8 240.0 L476.1 232.9 L472.1 226.6 M472.1 226.6 L483.3 219.9 M436.5 164.8 L442.9 170.3 L448.5 176.7 L455.8 181.2 M453.9 143.9 L446.3 146.9 L439.3 151.0 M453.9 143.9 L461.1 144.9 L467.6 148.2 L474.4 150.4 M455.8 181.2 L462.9 176.0 L470.4 171.3 M470.4 171.3 L472.7 164.5 L474.0 157.6 L474.4 150.4 M580.8 343.1 L569.6 335.3 M591.2 304.8 L586.9 302.0 M586.9 302.0 L581.0 306.3 L577.0 312.8 L570.7 316.8 M569.6 335.3 L571.0 326.1 L570.7 316.8 M648.9 159.4 L643.3 154.2 L639.6 147.3 L633.5 142.5 M648.9 159.4 L655.3 152.9 L661.2 146.0 L667.9 139.9 M633.5 142.5 L638.1 134.0 L640.4 124.6 M640.4 124.6 L649.0 120.1 M649.0 120.1 L655.4 123.6 L661.5 127.7 M667.9 139.9 L661.5 127.7 M742.6 123.6 L742.6 134.0 L744.7 144.2 M742.6 123.6 L748.9 120.4 L756.0 119.2 L762.5 116.6 M762.5 116.6 L768.3 122.7 L774.6 128.3 M774.6 128.3 L771.6 135.9 L769.1 143.7 L765.0 150.8 M744.7 144.2 L751.2 147.4 L758.5 147.8 L765.0 150.8 M384.3 118.0 L384.5 109.8 L384.8 100.4 M351.7 99.2 L360.1 96.0 L367.4 90.6 M367.4 90.6 L376.4 94.9 L384.8 100.4 M407.0 122.7 L408.0 122.3 L414.8 118.4 M384.8 100.4 L392.2 99.1 L398.9 95.7 M398.9 95.7 L405.1 99.6 L412.0 101.6 M412.0 101.6 L414.0 109.9 L414.8 118.4 M424.8 140.2 L422.8 133.1 L422.7 125.7 M414.8 118.4 L422.7 125.7 M252.3 421.2 L243.8 417.9 L236.1 413.1 L228.0 409.1 M252.3 421.2 L249.2 427.8 L245.5 434.0 L242.8 440.7 L240.6 447.6 M223.6 442.4 L219.7 435.1 L215.5 427.9 L212.3 420.2 M223.6 442.4 L229.5 447.1 L236.5 449.7 M212.3 420.2 L220.0 414.4 L228.0 409.1 M236.5 449.7 L240.6 447.6 M209.0 448.2 L215.6 445.5 L223.6 442.4 M209.0 419.5 L212.3 420.2 M209.0 390.4 L212.1 388.4 L218.8 381.3 M229.2 389.3 L218.8 381.3 M229.2 389.3 L229.3 399.2 L228.0 409.1 M351.7 446.7 L345.3 449.3 M345.3 449.3 L335.9 448.5 L326.6 446.5 M353.8 423.8 L344.2 419.7 L334.3 416.6 M334.3 416.6 L330.6 420.0 M326.6 446.5 L328.1 437.7 L330.6 429.0 L330.6 420.0 M327.9 396.4 L319.2 398.1 L310.4 398.0 M327.9 396.4 L336.0 400.5 M310.4 398.0 L311.4 406.8 L313.5 415.5 M336.0 400.5 L335.1 408.5 L334.3 416.6 M330.6 420.0 L321.9 418.5 L313.5 415.5 M229.2 389.3 L236.9 386.6 L245.1 385.7 M245.1 385.7 L255.0 390.1 M252.3 421.2 L257.7 418.2 M255.0 390.1 L255.6 397.1 L256.8 404.1 L256.5 411.2 L257.7 418.2 M326.5 369.7 L318.3 369.4 L310.0 369.4 M326.5 369.7 L338.8 364.2 M338.8 364.2 L339.7 350.3 M339.7 350.3 L332.4 344.5 L324.3 340.1 L316.0 335.9 M316.0 335.9 L305.2 340.2 M310.0 369.4 L307.7 362.2 L308.3 354.6 L307.4 347.3 L305.2 340.2 M218.8 381.3 L216.7 373.8 L214.3 366.5 M246.4 366.6 L237.7 365.7 L229.6 362.5 L221.0 361.3 M246.4 366.6 L246.0 376.2 L245.1 385.7 M221.0 361.3 L214.3 366.5 M209.6 364.6 L214.3 366.5 M623.7 482.8 L624.9 494.0 M598.2 376.4 L598.5 378.3 L598.6 385.7 M628.0 388.1 L622.6 389.5 M598.6 385.7 L602.2 390.7 M583.2 352.8 L576.8 361.0 L568.6 367.5 M568.6 367.5 L572.1 376.4 L576.7 384.8 M598.6 385.7 L591.3 385.4 L584.0 384.5 L576.7 384.8 M606.4 414.4 L605.0 406.7 L605.2 401.0 M606.4 414.4 L598.2 423.5 M598.2 423.5 L590.1 419.8 L581.4 417.8 L573.0 414.8 M602.2 390.7 L596.1 395.2 L591.0 400.9 L585.3 405.9 L578.9 410.0 L573.0 414.8 M608.8 449.8 L599.0 446.4 M606.4 414.4 L608.8 415.3 M599.0 446.4 L598.3 438.8 L598.7 431.1 L598.2 423.5 M636.5 394.0 L636.3 403.9 M701.0 307.3 L708.4 309.4 L713.5 311.1 M347.6 493.3 L353.6 482.6 M346.1 471.4 L336.8 472.5 L327.6 474.1 L318.7 477.0 M346.1 471.4 L353.6 482.6 M318.7 477.0 L323.3 485.9 L327.7 494.0 M372.7 476.9 L363.2 479.8 L353.6 482.6 M372.7 476.9 L375.4 477.7 M375.4 477.7 L376.0 486.5 L376.7 494.0 M315.9 474.4 L317.5 465.6 L318.7 456.8 L321.9 448.5 M315.9 474.4 L318.7 477.0 M345.3 449.3 L345.9 456.7 L345.6 464.1 L346.1 471.4 M321.9 448.5 L326.6 446.5 M360.5 448.9 L362.8 456.2 L367.6 462.4 L369.3 470.1 L372.7 476.9 M375.2 417.2 L381.9 413.8 L388.0 408.9 L395.2 406.3 M382.0 440.0 L388.8 443.0 M405.0 420.4 L399.7 413.7 L395.2 406.3 M405.0 420.4 L402.1 430.0 L398.7 439.4 M388.8 443.0 L398.7 439.4 M375.4 477.7 L382.6 474.0 L390.5 472.1 M388.8 443.0 L390.3 450.2 L390.0 457.5 L389.8 464.9 L390.5 472.1 M407.9 494.0 L406.4 486.0 L402.4 476.8 M390.5 472.1 L402.4 476.8 M549.7 369.7 L559.0 367.5 L568.6 367.5 M549.7 369.7 L551.8 378.2 L553.0 386.9 L554.0 395.6 M576.7 384.8 L571.9 390.2 L566.0 394.3 L560.5 398.9 M554.0 395.6 L560.5 398.9 M573.0 414.8 L569.9 415.4 M560.5 398.9 L566.0 406.7 L569.9 415.4 M518.9 418.6 L529.7 412.2 M518.9 418.6 L511.1 413.4 L502.4 409.7 M502.4 409.7 L501.4 401.1 L500.2 392.5 M535.7 402.2 L529.7 412.2 M535.7 402.2 L531.9 396.0 L527.2 390.3 L525.1 383.0 L520.7 377.1 M520.7 377.1 L513.4 381.5 L506.8 387.1 L500.2 392.5 M520.2 440.5 L520.7 433.1 L519.2 425.9 L518.9 418.6 M538.9 447.9 L542.8 447.9 M542.8 447.9 L543.0 439.6 L546.1 431.9 L547.2 423.7 M547.2 423.7 L539.0 417.1 L529.7 412.2 M499.7 411.3 L502.4 409.7 M474.1 389.4 L481.5 386.8 L489.2 384.9 M489.2 384.9 L500.2 392.5 M547.2 423.7 L554.4 421.9 L561.9 421.1 L568.8 418.2 M554.0 395.6 L544.5 398.0 L535.7 402.2 M568.8 418.2 L569.9 415.4 M571.1 445.9 L580.1 446.7 L588.9 449.0 M571.1 445.9 L565.6 450.8 L559.4 454.6 M588.9 449.0 L589.6 456.7 L589.1 464.4 L588.0 472.0 M559.3 460.3 L559.4 454.6 M559.3 460.3 L564.0 465.9 L566.7 472.6 L570.5 478.8 M570.5 478.8 L579.2 475.1 L588.0 472.0 M599.0 446.4 L588.9 449.0 M568.8 418.2 L568.9 427.5 L570.2 436.7 L571.1 445.9 M542.8 447.9 L550.8 452.0 L559.4 454.6 M609.5 473.3 L597.8 480.5 M597.8 480.5 L588.0 472.0 M546.5 475.2 L553.8 468.5 L559.3 460.3 M570.7 493.7 L571.7 486.2 L570.5 478.8 M503.7 239.4 L508.2 231.5 L514.6 225.0 M514.6 225.0 L511.3 218.2 L509.8 210.7 M483.3 219.9 L487.6 212.3 L491.6 204.5 M491.6 204.5 L500.5 208.3 L509.8 210.7 M514.6 225.0 L523.0 227.3 L531.7 227.8 L539.9 231.0 M541.6 229.9 L543.8 222.1 L546.6 214.3 L547.3 206.1 M547.3 206.1 L541.7 201.3 L534.3 199.8 L528.8 195.1 M509.8 210.7 L516.9 206.5 L522.3 200.1 L528.8 195.1 M620.3 280.9 L612.5 280.7 L605.1 277.6 L597.3 277.7 M586.9 302.0 L584.0 294.2 L583.7 285.9 M597.3 277.7 L591.4 282.4 L584.2 284.9 M583.7 285.9 L575.4 287.5 L567.2 287.7 L558.8 285.9 L550.6 287.1 M570.7 316.8 L562.6 310.5 L553.7 305.6 M550.6 287.1 L551.4 296.5 L553.7 305.6 M549.7 369.7 L546.0 366.6 M569.6 335.3 L561.3 337.2 L552.9 339.0 M552.9 339.0 L550.2 345.7 L549.9 352.9 L547.0 359.5 L546.0 366.6 M274.8 446.3 L282.8 450.0 L291.4 451.5 M274.8 446.3 L275.7 437.8 L273.9 429.3 L275.2 420.8 M275.2 420.8 L281.6 417.9 M281.6 417.9 L287.5 422.7 L294.8 425.2 L300.9 429.6 M291.4 451.5 L299.0 446.6 L305.9 440.7 M305.9 440.7 L300.9 429.6 M290.8 465.4 L284.5 469.0 L277.8 471.7 L270.8 473.7 M290.8 465.4 L291.4 451.5 M264.5 455.5 L274.8 446.3 M264.5 455.5 L268.0 464.5 L270.8 473.7 M264.5 455.5 L256.7 452.6 L248.3 451.1 L240.6 447.6 M257.7 418.2 L266.6 418.7 L275.2 420.8 M306.2 476.7 L299.0 470.4 L290.8 465.4 M306.2 476.7 L315.9 474.4 M321.9 448.5 L314.1 444.3 L305.9 440.7 M313.5 415.5 L306.4 421.8 L300.9 429.6 M295.7 494.0 L293.9 492.5 M293.9 492.5 L290.2 494.0 M306.2 476.7 L299.8 484.5 L293.9 492.5 M270.5 474.6 L274.6 482.1 L279.1 489.4 L281.6 494.0 M729.6 286.5 L735.6 283.0 M729.6 286.5 L722.4 283.9 L716.0 279.5 L708.7 277.0 M735.6 283.0 L735.1 276.0 L733.0 269.2 L731.8 262.3 L730.5 255.4 M708.7 277.0 L708.1 269.9 L709.2 262.9 M709.2 262.9 L713.1 256.1 L718.4 250.4 M718.4 250.4 L730.5 255.4 M744.0 283.5 L735.6 283.0 M725.5 301.6 L726.2 294.4 L729.6 286.5 M694.3 286.7 L701.6 282.1 L708.7 277.0 M761.8 255.1 L753.0 248.1 M753.0 248.1 L745.3 250.0 L738.1 253.2 L730.5 255.4 M683.7 256.6 L683.1 265.0 L679.9 273.0 L678.6 281.3 M683.7 256.6 L692.4 257.7 L700.7 260.9 L709.2 262.9 M749.4 228.7 L750.0 238.7 L753.0 248.1 M749.4 228.7 L741.9 222.8 L733.8 217.7 M714.5 238.5 L719.1 233.1 L725.0 228.9 L729.0 222.9 L733.8 217.7 M714.5 238.5 L718.4 250.4 M732.3 116.1 L742.6 123.6 M732.3 116.1 L732.9 105.9 M767.6 103.6 L762.5 116.6 M767.6 103.6 L764.4 100.0 M732.9 105.9 L736.2 100.0 M653.3 101.7 L651.0 110.9 L649.0 120.1 M653.3 101.7 L656.0 100.0 M661.5 127.7 L670.6 124.2 L678.9 119.1 M679.6 100.0 L680.0 103.4 L678.2 111.3 L678.9 119.1 M343.6 95.9 L342.7 87.2 L342.5 86.6 M412.0 101.6 L418.1 97.6 L424.8 94.9 M422.7 125.7 L433.0 119.0 M424.8 94.9 L436.7 98.7 M433.0 119.0 L435.9 109.1 L436.7 98.7 M453.9 143.9 L453.5 136.6 L454.6 129.2 L454.5 121.9 M433.0 119.0 L440.0 121.2 L447.5 119.6 L454.5 121.9 M402.9 70.8 L401.9 79.2 L399.0 87.2 L398.9 95.7 M402.9 70.8 L411.5 65.9 M424.8 94.9 L424.1 86.5 L424.2 78.1 L425.4 69.8 M411.5 65.9 L418.8 66.8 L425.4 69.8 M327.9 396.4 L327.3 387.5 L326.3 378.7 L326.5 369.7 M338.8 364.2 L347.3 370.1 L354.7 377.5 M336.0 400.5 L342.6 397.3 L349.1 393.8 L355.7 390.8 M354.7 377.5 L355.7 390.8 M365.7 413.2 L361.9 403.4 L358.6 393.5 M358.6 393.5 L355.7 390.8 M405.0 420.4 L412.7 420.8 L420.2 418.4 L427.8 418.9 M431.0 395.2 L424.3 391.9 L417.6 388.7 M395.2 406.3 L396.1 402.7 M417.6 388.7 L409.7 392.3 L403.5 398.4 L396.1 402.7 M438.8 359.6 L429.8 357.7 M429.8 357.7 L424.2 363.6 L418.0 369.0 L412.2 374.7 M417.6 388.7 L416.0 381.2 L412.2 374.7 M358.6 393.5 L367.7 393.0 L376.6 391.7 L385.4 389.5 M396.1 402.7 L390.4 396.3 L385.4 389.5 M310.4 398.0 L300.4 391.7 M310.0 369.4 L304.2 374.9 M304.2 374.9 L303.5 383.5 L300.4 391.7 M281.6 417.9 L285.2 411.4 L286.5 404.0 L289.3 397.2 M300.4 391.7 L289.3 397.2 M255.0 390.1 L262.1 386.1 L269.6 382.9 M289.3 397.2 L283.2 391.8 L276.8 386.7 L269.6 382.9 M273.0 280.9 L267.0 288.4 L260.4 295.5 M273.0 280.9 L282.8 281.9 L292.6 281.4 M292.6 281.4 L292.2 288.5 L289.6 295.2 L287.7 302.0 L287.7 309.1 M260.4 295.5 L258.8 308.0 M258.8 308.0 L264.0 310.0 M264.0 310.0 L272.0 310.7 L279.8 308.8 L287.7 309.1 M259.5 352.0 L255.4 346.1 L250.4 340.8 L245.7 335.4 M259.5 352.0 L252.3 358.7 L246.4 366.6 M221.0 361.3 L226.1 354.6 L230.1 347.4 L233.1 339.6 M245.7 335.4 L233.1 339.6 M240.7 274.8 L232.8 276.0 L225.3 278.8 M240.7 274.8 L244.9 280.7 L251.2 284.5 L255.2 290.6 L260.4 295.5 M222.3 282.0 L225.3 278.8 M222.3 282.0 L226.2 290.1 L229.2 298.6 L233.6 306.5 M258.8 308.0 L251.6 313.3 M233.6 306.5 L242.8 309.3 L251.6 313.3 M597.8 480.5 L596.0 490.1 L594.7 494.0 M625.0 277.8 L624.7 269.8 L623.7 261.9 L622.8 254.1 M598.6 259.6 L598.1 268.6 L597.3 277.7 M598.6 259.6 L606.1 258.1 L612.9 254.9 L619.8 251.8 M622.8 254.1 L619.8 251.8 M601.0 231.1 L598.9 223.9 L596.8 216.7 L592.2 210.5 L590.2 203.3 M601.0 231.1 L610.2 231.1 M590.2 203.3 L597.0 199.4 L604.3 196.7 L612.0 195.1 M617.0 199.4 L612.0 195.1 M617.0 199.4 L618.0 206.7 L619.8 213.9 L619.6 221.3 M619.6 221.3 L610.2 231.1 M683.7 256.6 L682.1 251.9 M682.1 251.9 L689.1 245.6 L694.3 237.8 M714.5 238.5 L706.6 235.7 M694.3 237.8 L706.6 235.7 M588.6 174.8 L596.6 173.3 M588.6 174.8 L586.6 183.8 L585.1 192.8 L583.3 201.8 M583.3 201.8 L590.2 203.3 M612.0 195.1 L610.5 181.4 M596.6 173.3 L604.1 176.4 L610.5 181.4 M575.1 146.6 L583.5 146.5 L591.8 148.0 L600.1 149.0 M575.1 146.6 L580.2 139.6 L583.4 131.5 L587.7 124.0 L591.7 116.4 M603.3 122.6 L591.7 116.4 M603.3 122.6 L604.0 130.1 L605.3 137.5 L607.5 144.8 M607.5 144.8 L600.1 149.0 M633.5 142.5 L626.2 145.9 L618.6 148.5 M640.4 124.6 L634.2 120.1 L626.9 117.6 L620.3 114.0 M620.3 114.0 L611.3 117.2 L603.3 122.6 M618.6 148.5 L607.5 144.8 M618.6 148.5 L619.2 156.0 L621.0 163.5 L620.4 171.1 M620.4 171.1 L615.7 176.5 L610.5 181.4 M596.6 173.3 L597.4 165.1 L598.0 156.9 L600.1 149.0 M422.7 461.4 L425.5 451.5 M422.7 461.4 L427.8 469.0 L433.7 476.1 L438.7 483.8 M455.3 455.9 L448.4 453.8 L441.3 452.6 L434.2 451.7 L427.1 450.2 M455.3 455.9 L456.2 466.2 L457.4 476.5 M427.1 450.2 L425.5 451.5 M457.4 476.5 L448.2 480.6 L438.7 483.8 M398.7 439.4 L405.3 442.8 L411.8 446.2 L418.4 449.3 L425.5 451.5 M402.4 476.8 L408.4 470.7 L416.7 467.5 L422.7 461.4 M435.0 494.0 L435.8 492.0 L438.7 483.8 M433.1 427.8 L430.7 435.2 L428.3 442.5 L427.1 450.2 M470.2 442.0 L463.4 449.6 L455.3 455.9 M465.8 481.8 L457.4 476.5 M484.9 283.4 L484.9 276.3 L486.1 269.3 L486.0 262.3 L484.8 255.2 M484.9 283.4 L480.7 285.5 M480.7 285.5 L474.1 281.7 L468.0 277.0 L460.8 274.4 M484.8 255.2 L476.0 253.9 L467.2 256.0 L458.4 255.0 M458.4 255.0 L459.5 264.7 L460.8 274.4 M487.2 252.3 L484.8 255.2 M463.1 226.9 L472.1 226.6 M463.1 226.9 L456.6 231.0 L451.2 236.5 M451.2 236.5 L449.9 246.2 M449.9 246.2 L458.4 255.0 M447.6 282.3 L454.8 279.3 L460.8 274.4 M447.6 282.3 L438.6 279.4 M449.9 246.2 L441.5 251.0 L433.6 256.6 M438.6 279.4 L435.9 272.0 L434.6 264.3 L433.6 256.6 M443.8 358.0 L447.9 350.6 L452.6 343.6 M429.8 357.7 L423.4 349.6 L419.1 340.1 M419.1 340.1 L430.9 332.9 M430.9 332.9 L438.4 335.9 L445.1 340.7 L452.6 343.6 M479.6 180.1 L487.4 175.2 L496.1 172.5 M479.6 180.1 L480.4 188.4 L482.0 196.6 M482.0 196.6 L490.9 202.8 M490.9 202.8 L496.4 195.2 L500.4 186.8 L505.0 178.7 M496.1 172.5 L505.0 178.7 M470.4 171.3 L479.6 180.1 M486.8 150.4 L478.3 149.1 M486.8 150.4 L490.0 157.7 L494.1 164.7 L496.1 172.5 M478.3 149.1 L474.4 150.4 M455.9 197.0 L455.5 189.1 L455.8 181.2 M456.4 197.4 L464.9 196.9 L473.5 197.5 L482.0 196.6 M456.4 197.4 L458.3 204.7 L459.4 212.2 L460.8 219.6 L463.1 226.9 M512.0 177.4 L505.0 178.7 M512.0 177.4 L519.0 183.5 L526.8 188.5 M526.8 188.5 L528.8 195.1 M587.6 238.1 L582.2 232.1 L575.8 227.0 M587.6 238.1 L585.4 245.4 M585.4 245.4 L579.1 251.0 L572.3 255.8 M575.8 227.0 L568.6 231.2 L560.2 232.3 L552.9 236.0 M552.9 236.0 L557.6 241.8 L560.6 248.6 L564.0 255.3 M564.0 255.3 L572.3 255.8 M601.0 231.1 L594.0 234.0 L587.6 238.1 M572.1 204.5 L573.2 212.0 L575.7 219.3 L575.8 227.0 M572.1 204.5 L583.3 201.8 M598.6 259.6 L592.9 251.6 L585.4 245.4 M619.8 251.8 L617.5 244.5 L612.3 238.5 L610.2 231.1 M584.2 284.9 L581.9 277.4 L578.8 270.1 L575.7 262.9 L572.3 255.8 M541.6 229.9 L552.9 236.0 M561.2 199.8 L554.5 203.6 L547.3 206.1 M561.2 199.8 L572.1 204.5 M545.3 271.9 L544.3 282.0 M545.3 271.9 L539.9 265.9 L536.4 258.4 L530.7 252.5 M544.3 282.0 L534.0 286.0 M534.0 286.0 L525.8 284.8 L517.7 283.8 L509.5 282.5 M509.5 282.5 L509.4 273.4 L512.1 264.5 L512.0 255.4 M530.7 252.5 L521.5 254.9 L512.0 255.4 M550.6 287.1 L544.3 282.0 M564.0 255.3 L557.5 260.5 L551.6 266.5 L545.3 271.9 M539.9 231.0 L536.3 237.9 L532.6 244.8 L530.7 252.5 M502.7 247.3 L512.0 255.4 M503.9 286.1 L509.5 282.5 M503.9 286.1 L494.5 283.9 L484.9 283.4 M553.7 305.6 L548.8 310.8 L544.0 315.9 L539.2 321.1 M534.0 286.0 L530.2 295.8 L528.8 306.3 M539.2 321.1 L534.3 313.5 L528.8 306.3 M552.9 339.0 L545.3 334.8 L538.0 329.8 M539.2 321.1 L538.0 329.8 M249.5 483.6 L247.9 492.1 M249.5 483.6 L244.9 476.5 L239.0 470.5 L233.0 464.6 M247.9 492.1 L240.9 494.0 M222.1 494.0 L221.6 492.2 L219.9 484.1 L217.0 476.5 M233.0 464.6 L225.7 471.5 L217.0 476.5 M270.5 474.6 L263.7 478.0 L256.6 480.8 L249.5 483.6 M248.7 494.0 L247.9 492.1 M236.5 449.7 L234.2 457.1 L233.0 464.6 M209.0 474.6 L217.0 476.5 M836.1 175.7 L834.3 183.1 L834.2 190.4 M836.6 175.4 L845.6 179.6 L855.3 181.8 M855.5 185.6 L855.3 181.8 M836.1 175.7 L827.8 173.9 L819.7 171.5 L811.2 170.5 M797.8 197.0 L799.0 187.6 L800.4 178.3 M811.2 170.5 L800.9 177.3 M811.2 170.5 L811.0 156.9 M782.8 155.7 L788.1 160.4 L790.9 167.3 L796.6 171.7 L800.9 177.3 M782.8 155.7 L789.8 149.6 L795.0 141.7 M811.0 156.9 L806.0 151.5 L800.4 146.7 L795.0 141.7 M846.5 150.7 L843.7 159.1 L840.5 167.4 L836.6 175.4 M846.5 150.7 L840.0 147.0 L833.7 142.9 L827.4 138.9 M811.0 156.9 L817.2 151.6 L821.8 144.8 L827.4 138.9 M853.7 147.9 L846.5 150.7 M853.7 147.9 L853.9 139.5 L856.2 132.0 M824.2 132.0 L824.3 132.3 L827.4 138.9 M773.9 100.0 L767.6 103.6 M732.3 116.1 L723.4 119.9 L714.0 121.7 M732.9 105.9 L725.7 100.0 M714.0 121.7 L705.3 117.6 M705.3 117.6 L702.1 109.1 L698.5 100.7 M701.2 100.0 L698.5 100.7 M678.9 119.1 L691.3 125.5 M705.3 117.6 L698.6 122.0 L691.3 125.5 M491.5 109.4 L490.6 99.1 M491.5 109.4 L486.4 116.7 L480.5 123.4 M490.6 99.1 L479.7 95.6 M479.7 95.6 L472.3 98.9 L464.2 100.6 L457.2 104.8 M480.5 123.4 L472.4 121.5 L464.3 119.7 L455.9 119.3 M455.9 119.3 L457.3 112.1 L457.2 104.8 M478.3 149.1 L478.6 140.5 L479.7 131.9 L480.5 123.4 M454.5 121.9 L455.9 119.3 M446.8 97.0 L457.2 104.8 M446.8 97.0 L436.7 98.7 M486.8 150.4 L494.6 147.6 L502.2 144.4 M512.0 177.4 L514.3 170.4 L515.7 163.1 L518.4 156.2 M518.4 156.2 L509.7 151.0 L502.2 144.4 M491.5 109.4 L496.6 115.9 L501.6 122.5 L507.4 128.4 M502.2 144.4 L503.9 136.1 L507.4 128.4 M542.7 168.0 L552.2 171.0 L562.2 171.4 M542.7 168.0 L538.0 161.4 L533.2 154.9 M533.2 154.9 L539.6 150.1 L545.9 145.3 L552.2 140.6 L559.1 136.7 M562.2 171.4 L567.7 166.1 M567.7 166.1 L568.5 157.0 L570.9 148.1 M570.9 148.1 L564.9 142.5 L559.1 136.7 M561.2 199.8 L560.1 192.6 L561.5 185.6 L561.3 178.5 L562.2 171.4 M526.8 188.5 L532.9 182.4 L537.0 174.5 L542.7 168.0 M518.4 156.2 L529.9 153.5 M529.9 153.5 L533.2 154.9 M588.6 174.8 L581.9 171.4 L574.9 168.5 L567.7 166.1 M575.1 146.6 L570.9 148.1 M653.3 101.7 L651.6 100.0 M620.3 114.0 L618.8 105.3 L619.1 100.0 M278.7 118.0 L278.1 116.1 L275.2 112.2 M289.7 118.0 L293.9 116.4 L300.1 112.1 M422.9 30.0 L421.9 32.8 M414.8 37.2 L415.6 36.8 L421.9 32.8 M433.7 66.4 L434.6 59.2 L432.6 52.1 L433.0 45.0 M433.7 66.4 L441.7 68.9 L450.0 70.0 M433.0 45.0 L441.4 44.0 L449.8 43.1 L457.9 40.6 M450.0 70.0 L460.4 65.2 M460.4 65.2 L460.1 57.7 L460.6 50.2 L461.0 42.8 M461.0 42.8 L457.9 40.6 M409.9 49.9 L410.6 57.4 L411.5 65.9 M421.9 32.8 L427.9 38.4 L433.0 45.0 M425.4 69.8 L433.7 66.4 M446.8 97.0 L447.8 88.0 L448.2 78.9 L450.0 70.0 M452.3 30.0 L454.0 32.8 L457.9 40.6 M465.8 67.9 L468.1 75.4 L472.9 81.7 L475.3 89.1 L479.7 95.6 M465.8 67.9 L460.4 65.2 M478.0 33.7 L478.3 30.0 M478.0 33.7 L469.2 37.6 L461.0 42.8 M413.3 224.8 L422.9 223.3 L432.6 222.2 M413.3 224.8 L409.9 224.1 M409.9 224.1 L407.1 216.8 L407.0 216.6 M407.0 207.9 L410.4 206.0 L415.6 200.7 L422.0 197.0 L428.2 193.0 M432.6 222.2 L434.6 215.1 L437.0 208.2 L438.7 201.1 M428.2 193.0 L438.7 201.1 M451.2 236.5 L445.1 231.6 L438.3 227.6 L432.6 222.2 M433.6 256.6 L430.2 256.4 M430.2 256.4 L427.7 249.6 L422.6 244.2 L419.5 237.8 L415.7 231.7 L413.3 224.8 M407.0 259.9 L412.1 262.5 M407.0 228.5 L409.9 224.1 M412.1 262.5 L421.6 260.5 L430.2 256.4 M424.3 175.4 L426.9 184.1 L428.2 193.0 M455.9 197.0 L447.5 199.8 L438.7 201.1 M387.4 288.4 L389.1 296.1 L388.7 304.1 L390.6 311.8 M387.4 288.4 L396.1 286.4 L405.2 286.7 L414.0 284.9 M390.6 311.8 L398.6 314.3 L406.9 315.3 M406.9 315.3 L415.2 310.1 L422.2 303.3 M422.2 303.3 L420.9 291.6 M414.0 284.9 L420.9 291.6 M419.1 340.1 L412.6 338.5 M412.6 338.5 L410.3 330.9 L409.0 323.0 L406.9 315.3 M430.9 332.9 L434.2 326.2 L435.8 318.9 L438.1 311.9 M438.1 311.9 L429.9 308.1 L422.2 303.3 M447.6 282.3 L450.4 289.1 L451.0 296.4 L452.3 303.5 L453.9 310.5 M438.6 279.4 L433.4 284.4 L426.7 287.3 L420.9 291.6 M453.9 310.5 L446.0 311.2 L438.1 311.9 M412.1 262.5 L413.3 269.9 L412.4 277.5 L414.0 284.9 M339.7 350.3 L346.6 342.7 L354.6 336.0 M316.0 335.9 L319.2 328.8 L323.3 322.1 L325.9 314.7 M325.9 314.7 L333.2 312.3 L340.4 309.6 M340.4 309.6 L343.3 311.5 M343.3 311.5 L347.3 319.6 L351.4 327.6 L354.6 336.0 M347.0 278.7 L346.6 272.0 M347.0 278.7 L355.8 278.1 L364.6 279.6 L373.3 280.4 M377.7 278.8 L373.3 280.4 M377.7 278.8 L379.3 272.0 M340.4 309.6 L339.9 300.9 L341.3 292.2 L340.2 283.6 M340.2 283.6 L347.0 278.7 M343.3 311.5 L350.2 309.8 L357.3 308.7 L364.1 306.2 M364.1 306.2 L366.4 297.3 L370.1 288.9 L373.3 280.4 M387.4 288.4 L377.7 278.8 M390.6 311.8 L382.8 317.7 M364.1 306.2 L370.7 309.3 L377.0 313.2 L382.8 317.7 M395.0 350.9 L395.0 364.0 M395.0 350.9 L388.7 345.7 L381.5 341.7 L375.7 336.0 M365.9 369.4 L373.7 370.4 L381.5 370.2 L389.2 368.7 M365.9 369.4 L367.4 361.6 L367.2 353.8 L366.8 346.0 L367.2 338.2 M395.0 364.0 L389.2 368.7 M367.2 338.2 L375.7 336.0 M412.6 338.5 L406.6 342.5 L401.4 347.6 L395.0 350.9 M412.2 374.7 L403.3 369.9 L395.0 364.0 M382.8 317.7 L378.5 326.5 L375.7 336.0 M354.7 377.5 L365.9 369.4 M385.4 389.5 L387.1 382.6 L388.9 375.8 L389.2 368.7 M354.6 336.0 L367.2 338.2 M329.7 279.6 L322.3 280.4 L314.8 279.2 L307.5 280.0 M329.7 279.6 L329.6 272.5 L329.6 272.0 M303.2 277.0 L307.5 280.0 M303.2 277.0 L303.1 272.0 M310.1 304.9 L309.0 296.6 L308.5 288.3 L307.5 280.0 M310.1 304.9 L318.2 309.4 L325.9 314.7 M340.2 283.6 L329.7 279.6 M292.6 281.4 L303.2 277.0 M310.1 304.9 L302.7 309.9 L294.4 312.8 M287.7 309.1 L294.4 312.8 M269.8 272.0 L269.9 273.5 L273.0 280.9 M281.7 335.5 L289.7 334.5 L297.5 336.1 M281.7 335.5 L275.4 341.6 L268.2 346.6 L262.0 352.8 M262.0 352.8 L266.6 358.9 L272.2 364.0 M300.7 338.7 L296.3 345.3 L291.7 351.7 L286.5 357.6 L280.9 363.2 M300.7 338.7 L297.5 336.1 M272.2 364.0 L280.9 363.2 M264.0 310.0 L269.3 315.7 L272.9 322.7 L276.5 329.7 L281.7 335.5 M294.4 312.8 L295.8 320.5 L296.8 328.3 L297.5 336.1 M259.5 352.0 L262.0 352.8 M245.7 335.4 L248.3 328.2 L248.4 320.3 L251.6 313.3 M269.6 382.9 L270.8 373.4 L272.2 364.0 M305.2 340.2 L300.7 338.7 M304.2 374.9 L295.9 372.1 L288.7 367.1 L280.9 363.2 M213.0 328.6 L212.1 314.9 M213.0 328.6 L209.0 332.3 M209.0 312.2 L212.1 314.9 M233.1 339.6 L226.8 335.1 L219.2 333.3 L213.0 328.6 M233.6 306.5 L226.3 308.8 L219.2 311.9 L212.1 314.9 M209.0 279.9 L214.1 283.3 M214.1 283.3 L210.9 291.7 L209.0 298.3 M214.1 283.3 L222.3 282.0 M225.3 278.8 L223.6 272.0 M240.7 274.8 L242.4 272.0 M855.3 181.8 L867.3 179.3 M871.3 182.0 L867.3 179.3 M853.7 147.9 L861.3 149.4 L868.2 152.8 M867.3 179.3 L868.8 170.5 L867.4 161.7 L868.2 152.8 M883.5 132.0 L883.4 133.8 L881.2 142.1 L881.0 150.6 M881.0 150.6 L868.2 152.8 M888.4 177.6 L888.6 177.3 L894.7 173.7 M896.4 175.3 L894.7 173.7 M881.0 150.6 L887.8 153.5 L894.1 157.5 M894.1 157.5 L894.1 165.6 L894.7 173.7 M661.3 233.2 L649.4 233.8 M661.3 233.2 L665.9 238.5 L669.9 244.5 L675.3 249.1 M649.4 233.8 L644.2 245.4 M675.3 249.1 L668.3 254.7 L660.4 259.2 L653.5 265.0 M653.5 265.0 L651.5 258.0 L648.1 251.5 L644.2 245.4 M682.1 251.9 L675.3 249.1 M694.3 237.8 L688.7 230.5 L683.3 223.1 L677.1 216.4 M677.1 216.4 L671.6 221.8 L666.6 227.6 L661.3 233.2 M643.1 225.4 L649.4 233.8 M643.1 225.4 L635.3 223.6 L627.3 223.4 L619.6 221.3 M622.8 254.1 L630.2 251.9 L636.8 247.8 L644.2 245.4 M653.3 275.9 L653.5 265.0 M480.7 285.5 L477.5 291.8 L474.3 298.2 L471.6 304.9 M453.9 310.5 L459.5 312.8 M471.6 304.9 L466.3 309.9 L459.5 312.8 M452.6 343.6 L464.2 336.8 M459.5 312.8 L461.2 320.8 L462.7 328.8 L464.2 336.8 M503.9 286.1 L504.3 295.7 L506.2 305.1 M528.8 306.3 L519.9 309.3 L510.7 311.7 M506.2 305.1 L510.7 311.7 M471.6 304.9 L479.3 309.1 L486.9 313.3 M506.2 305.1 L499.3 306.8 L493.5 311.1 L486.9 313.3 M993.2 136.2 L993.2 135.4 L992.1 132.0 M958.7 142.4 L958.7 136.2 L958.0 132.0 M740.6 200.5 L741.7 192.8 L743.6 185.2 L746.8 178.0 M740.6 200.5 L749.8 200.3 L759.0 201.4 M759.0 201.4 L770.3 193.8 M746.8 178.0 L755.7 177.8 L764.4 175.6 M770.3 193.8 L768.0 184.5 L764.4 175.6 M749.4 228.7 L756.9 224.8 L764.5 221.0 M733.8 217.7 L732.1 208.2 M732.1 208.2 L740.6 200.5 M764.5 221.0 L761.4 211.3 L759.0 201.4 M764.5 221.0 L768.2 220.9 M784.5 201.7 L777.5 198.1 L770.3 193.8 M744.7 144.2 L737.1 152.1 M765.0 150.8 L769.3 156.5 M769.3 156.5 L766.9 166.1 L764.4 175.6 M737.1 152.1 L738.2 162.5 L740.9 172.6 M740.9 172.6 L746.8 178.0 M797.8 197.0 L787.1 201.1 M800.4 178.3 L793.2 177.3 L785.9 178.0 L778.9 175.4 L771.7 175.5 L764.4 175.6 M782.8 155.7 L769.3 156.5 M795.0 141.7 L795.4 132.1 M800.0 130.3 L795.4 132.1 M777.7 100.0 L788.3 102.0 M774.6 128.3 L782.2 129.5 L789.8 128.4 M788.3 102.0 L788.6 110.8 L788.1 119.6 L789.8 128.4 M789.8 128.4 L795.4 132.1 M598.2 48.2 L600.0 45.4 M598.2 48.2 L600.0 53.2 M788.3 102.0 L792.4 100.0 M539.7 121.3 L542.9 114.8 L545.7 108.1 L549.4 101.9 L553.3 95.7 M539.7 121.3 L529.7 122.0 M529.5 121.9 L526.0 114.8 L524.4 106.9 L521.5 99.5 M521.5 99.5 L529.5 92.9 L536.2 84.9 M536.2 84.9 L544.3 91.1 L553.3 95.7 M529.9 153.5 L529.3 145.6 L529.7 137.8 L530.3 129.9 L529.7 122.0 M559.1 136.7 L557.8 133.1 M557.8 133.1 L551.7 129.3 L546.2 124.6 L539.7 121.3 M507.4 128.4 L515.0 127.2 L522.2 124.5 L529.5 121.9 M497.1 94.3 L490.6 99.1 M497.1 94.3 L505.1 96.8 L513.2 98.4 L521.5 99.5 M557.8 133.1 L563.1 126.7 L566.8 119.2 L571.5 112.4 M553.3 95.7 L562.0 94.9 M562.0 94.9 L565.8 104.2 L571.5 112.4 M571.5 112.4 L581.4 113.8 L591.3 115.8 M600.0 98.1 L594.7 98.8 M591.3 115.8 L593.0 107.3 L594.7 98.8 M510.0 33.4 L501.3 33.6 L493.1 36.1 L484.6 37.2 M510.0 33.4 L514.3 38.3 M514.3 38.3 L513.4 46.4 L514.7 54.4 L513.6 62.5 M484.6 37.2 L486.6 45.1 L489.4 52.8 L490.0 61.0 M490.0 61.0 L497.8 63.3 L504.5 67.7 M504.5 67.7 L513.6 62.5 M509.9 30.0 L510.0 33.4 M478.0 33.7 L484.6 37.2 M465.8 67.9 L473.5 64.5 L481.8 62.7 L490.0 61.0 M497.1 94.3 L498.6 85.2 L501.3 76.3 L504.5 67.7 M533.3 69.7 L523.1 67.2 L513.6 62.5 M533.3 69.7 L533.9 77.5 L536.2 84.9 M402.9 70.8 L395.9 68.9 L389.1 66.3 L384.7 64.3 M367.4 90.6 L368.2 83.1 L368.6 75.5 L368.8 73.4 M714.0 121.7 L712.4 128.7 L714.2 135.9 L711.9 142.9 L711.9 150.0 M691.3 125.5 L687.9 135.3 L685.2 145.4 M711.9 150.0 L702.9 149.3 L694.0 147.8 L685.2 145.4 M737.1 152.1 L729.3 153.0 L721.5 153.1 L713.7 152.5 M711.9 150.0 L713.7 152.5 M667.9 139.9 L674.5 144.4 L682.0 147.2 M682.0 147.2 L685.2 145.4 M538.0 329.8 L531.0 331.9 L524.3 334.8 M510.7 311.7 L510.8 322.0 L511.0 332.4 M524.3 334.8 L511.0 332.4 M546.0 366.6 L538.1 365.7 L530.3 367.3 M524.3 334.8 L524.7 343.1 L528.5 350.8 L529.7 359.0 L530.3 367.3 M520.7 377.1 L522.3 372.3 M522.3 372.3 L530.3 367.3 M568.2 87.4 L578.7 87.9 L589.0 85.8 M568.2 87.4 L566.5 79.8 L565.2 72.0 L563.7 64.4 M565.1 62.7 L563.7 64.4 M565.1 62.7 L572.9 66.1 L580.8 68.9 L588.8 71.7 L597.2 73.1 M597.2 73.1 L592.2 78.9 L589.0 85.8 M562.0 94.9 L568.2 87.4 M594.7 98.8 L591.8 92.3 L589.0 85.8 M533.3 69.7 L539.8 64.8 M539.8 64.8 L547.8 65.2 L555.8 65.8 L563.7 64.4 M600.0 70.7 L597.2 73.1 M598.2 48.2 L591.0 46.9 L583.9 44.8 M583.9 44.8 L580.2 37.3 L578.4 30.0 M565.1 62.7 L569.3 51.4 M583.9 44.8 L576.2 47.1 L569.3 51.4 M535.2 34.3 L542.8 42.5 M535.2 34.3 L536.8 30.0 M542.8 42.5 L550.5 41.6 L558.3 40.5 M558.3 40.5 L559.3 32.1 L559.9 30.0 M514.3 38.3 L521.4 37.9 L528.0 34.4 L535.2 34.3 M539.8 64.8 L539.8 57.3 L542.2 50.0 L542.8 42.5 M569.3 51.4 L563.3 46.5 L558.3 40.5 M937.8 147.9 L934.9 149.2 M924.2 153.9 L920.5 155.5 M937.8 147.9 L935.4 140.9 L934.4 133.5 L933.7 132.0 M910.6 132.0 L910.0 140.2 L908.1 150.2 M908.1 150.2 L920.5 155.5 M921.6 160.2 L920.5 155.5 M894.1 157.5 L901.5 154.7 L908.1 150.2 M648.9 159.4 L649.6 167.1 L652.0 174.4 M620.4 171.1 L627.8 172.5 L635.1 173.7 L642.6 174.2 L649.8 176.1 M652.0 174.4 L649.8 176.1 M617.0 199.4 L625.1 197.8 L633.4 196.5 L641.4 194.3 M649.8 176.1 L644.8 184.8 L641.4 194.3 M643.1 225.4 L646.3 216.2 L647.4 206.6 M647.4 206.6 L641.4 194.3 M677.1 216.4 L678.9 208.2 M647.4 206.6 L656.1 205.0 L665.0 204.8 L673.9 205.6 M678.9 208.2 L673.9 205.6 M673.9 205.6 L669.6 199.6 L666.3 193.0 L661.9 187.0 L658.1 180.8 L653.8 174.8 M682.0 147.2 L679.8 154.3 L679.8 161.9 L678.7 169.2 M678.7 169.2 L670.5 171.5 L662.2 173.5 L653.8 174.8 M720.0 178.6 L708.9 172.1 M720.0 178.6 L721.3 187.8 L724.7 196.5 L727.6 205.4 M708.9 172.1 L701.4 177.0 L693.4 181.1 M693.4 181.1 L693.9 190.6 L692.4 199.9 M727.6 205.4 L720.3 203.9 L712.9 205.1 L705.7 203.8 L698.4 203.3 M698.4 203.3 L692.4 199.9 M740.9 172.6 L734.2 175.5 L726.9 176.6 L720.0 178.6 M713.7 152.5 L710.9 162.2 L708.9 172.1 M732.1 208.2 L727.6 205.4 M678.7 169.2 L685.4 176.0 L693.4 181.1 M678.9 208.2 L685.1 203.2 L692.4 199.9 M706.6 235.7 L705.7 227.3 L701.3 219.8 L700.2 211.5 L698.4 203.3 M495.2 334.4 L504.0 336.4 M495.2 334.4 L486.8 335.4 L478.8 338.4 L470.6 340.7 M504.0 336.4 L504.1 343.4 L504.3 350.5 L503.2 357.5 M503.2 357.5 L495.9 362.7 L487.8 366.8 M487.8 366.8 L481.3 363.7 L475.4 359.4 M475.4 359.4 L474.1 349.7 L470.6 340.7 M486.9 313.3 L489.3 320.5 L493.2 327.0 L495.2 334.4 M511.0 332.4 L504.0 336.4 M464.2 336.8 L470.6 340.7 M522.3 372.3 L516.0 367.3 L509.9 362.0 L503.2 357.5 M489.2 384.9 L488.0 375.9 L487.8 366.8 M460.2 373.5 L467.4 366.1 L475.4 359.4"/></g><g stroke="#c9c9dd" stroke-opacity="0.62" stroke-width="0.8" fill="none" stroke-linejoin="round"><path d="M210.2 154.4 L220.6 154.4 L220.6 149.2 L234.2 149.2 L234.2 132.5 L227.9 132.5 L227.9 129.4 L239.4 129.4 L239.4 127.3 L255.0 127.3 L255.0 123.1 L262.3 123.1 L262.3 120.0 M234.2 149.2 L262.3 149.2 L262.3 123.1 M234.2 149.2 L234.2 175.2 L262.3 175.2 L262.3 149.2 M262.3 138.8 L296.7 138.8 M262.3 164.8 L296.7 164.8 M213.3 175.2 L234.2 175.2 M216.5 175.2 L216.5 180.4 L232.1 181.5 L232.1 176.2 M216.5 180.4 L216.5 199.2 L210.2 199.2 M216.5 199.2 L232.1 198.1 L244.6 199.2 L244.6 194.0 L256.0 192.9 L256.0 175.2 M256.0 181.5 L269.6 181.5 L271.7 179.4 L275.8 181.5 L296.7 181.5 M244.6 199.2 L240.4 202.3 L243.5 205.4 L243.5 214.8 L239.4 224.2 L239.4 230.4 L214.4 229.4 L214.4 201.2 M256.0 192.9 L267.5 194.0 L267.5 200.2 L271.7 201.2 L269.6 206.5 L267.5 214.8 L243.5 214.8 M267.5 214.8 L271.7 215.8 L271.7 233.5 L239.4 233.5 L239.4 230.4 M271.7 202.3 L285.2 204.4 M271.7 233.5 L286.2 234.6 L296.7 234.2 M246.7 234.6 L245.6 250.2 L229.0 252.3 L222.7 253.3 M245.6 250.2 L246.7 255.4 L273.8 256.5 L276.9 245.0 L296.7 245.0 M240.4 256.5 L240.4 265.8 L250.8 270.0 M297.7 139.8 L334.2 139.8 L335.2 135.6 L350.8 129.4 L369.6 129.4 L370.6 144.0 L377.9 142.9 L377.9 146.0 L390.4 142.9 L391.5 149.2 L405.0 148.1 M334.2 139.8 L334.2 161.7 L357.1 161.7 L358.1 157.5 L363.3 151.2 L370.6 149.2 L370.6 144.0 M297.7 164.8 L327.9 166.9 L334.2 161.7 M327.9 166.9 L322.7 174.2 L323.8 198.1 L357.1 198.1 L357.1 161.7 M297.7 184.6 L323.1 184.6 M357.1 174.2 L363.3 175.8 L377.9 175.2 L384.2 173.1 L391.5 170.0 L391.5 149.2 M384.2 173.1 L386.2 182.5 L388.3 190.8 L382.1 201.2 L375.8 207.5 L365.4 202.3 L357.1 198.1 M323.8 198.1 L316.5 205.4 L309.2 211.7 L297.7 211.7 M309.2 211.7 L321.7 220.0 L334.2 226.2 L340.4 228.3 L342.5 233.5 M357.1 198.1 L351.9 205.4 L356.0 212.7 L350.8 220.0 L348.8 228.3 L342.5 233.5 L344.6 238.8 L340.4 245.0 L334.2 246.0 L338.3 253.3 L340.4 263.8 M297.7 249.2 L313.3 245.0 L330.0 246.0 L334.2 246.0 M375.8 207.5 L386.2 212.7 L392.5 214.8 L405.0 205.4 M391.5 180.4 L405.0 181.5 M350.8 220.0 L359.2 236.7 L369.6 240.8 L377.9 253.3 M840.5 49.1 L839.4 62.2 L832.8 76.4 L838.3 79.7 L835.0 90.6 L832.8 97.2 M839.4 62.2 L854.7 68.8 L872.2 70.9 L885.3 72.0 M838.3 79.7 L847.0 83.0 L852.5 87.3 L865.6 83.0 L876.6 86.3 L887.5 81.9 L894.1 88.4 L898.4 97.2 M889.7 51.3 L891.9 60.0 L886.4 72.0 L887.5 79.7 M918.1 52.3 L924.7 57.8 L933.5 61.1 L940.0 68.8 L937.8 77.5 L944.4 81.9 L940.0 88.4 L946.6 90.6 L945.5 100.5 M964.1 52.3 L968.5 57.8 L977.2 61.1 L979.4 68.8 L975.0 75.3 M946.6 90.6 L957.5 86.3 L961.9 79.7 L970.6 81.9 L975.0 75.3 L983.8 72.0 M951.0 31.6 L949.9 40.3 L955.3 46.9 L963.0 49.1 M909.4 31.6 L913.8 46.9 L912.7 51.3 M945.5 100.5 L966.3 97.2 L981.6 90.6 L990.3 87.3 M975.0 101.6 L981.6 112.5 L983.8 121.3 M832.8 99.4 L837.2 112.5 L843.8 108.1 M872.2 110.3 L878.8 121.3 L876.6 130.0 M890.8 100.5 L891.9 116.9 L896.3 130.0 M800.0 33.8 L813.1 34.8 L817.5 31.6 M800.0 66.6 L810.9 68.8 M800.0 81.9 L805.5 86.3 M675.0 30.5 L676.2 42.5 L680.0 52.5 L700.0 55.0 L715.0 45.0 L720.0 35.0 L722.5 30.5 M715.0 45.0 L735.0 48.8 L750.0 47.5 L752.5 38.8 L765.0 35.0 L785.0 42.5 L787.5 30.5 M735.0 48.8 L740.0 62.5 L747.5 73.8 L736.2 78.8 M750.0 47.5 L752.5 60.0 L747.5 73.8 L780.0 70.0 L807.5 65.0 M785.0 42.5 L782.5 57.5 L780.0 70.0 L782.5 85.0 M747.5 73.8 L750.0 85.0 L760.0 92.5 L775.0 87.5 M680.0 52.5 L675.0 62.5 L665.0 70.0 L663.8 82.5 L660.0 95.0 M700.0 55.0 L702.5 65.0 L717.5 67.5 L720.0 77.5 L720.0 95.0 L722.5 110.0 M630.0 37.5 L631.2 55.0 L630.0 70.0 L662.5 68.8 M631.2 45.0 L672.5 46.2 M572.5 70.0 L572.5 81.2 L590.0 81.2 L590.0 77.5 L610.0 76.2 M660.0 95.0 L720.0 95.0 M787.5 30.5 L791.2 37.5 L807.5 35.0 L811.2 30.5"/></g><g stroke="#aeb4c4" stroke-opacity="0.6" stroke-width="0.8" fill="none" stroke-linejoin="round"><path d="M261.2 495.0 L263.8 510.0 L271.2 515.0 L272.5 530.0 L262.5 532.5 L263.8 550.0 L257.5 560.0 L262.5 570.0 L261.2 585.0 L265.0 600.0 M271.2 515.0 L302.5 515.0 L302.5 495.0 M302.5 515.0 L300.0 530.0 L307.5 537.5 L305.0 547.5 L310.0 560.0 L320.0 567.5 L330.0 570.0 L350.0 568.8 M330.0 495.0 L331.2 517.5 L331.2 540.0 L330.0 567.5 M302.5 515.0 L331.2 516.2 L367.5 516.2 L367.5 495.0 M367.5 516.2 L367.5 540.0 L331.2 540.0 M367.5 540.0 L366.2 567.5 L382.5 567.5 L390.0 562.5 L400.0 565.0 L407.5 560.0 M387.5 495.0 L387.5 542.5 L367.5 542.5 M387.5 517.5 L407.5 516.2 L420.0 517.5 L421.2 495.0 M407.5 516.2 L405.0 530.0 L412.5 540.0 L425.0 530.0 L440.0 522.5 L450.0 515.0 L457.5 505.0 L452.5 495.0 M425.0 530.0 L435.0 540.0 L450.0 550.0 L460.0 560.0 L472.5 570.0 L482.5 580.0 M460.0 560.0 L450.0 570.0 L437.5 575.0 L425.0 585.0 L415.0 595.0 M450.0 515.0 L465.0 520.0 L475.0 530.0 L490.0 537.5 L500.0 530.0 L510.0 520.0 L520.0 515.0 M475.0 530.0 L467.5 545.0 L460.0 560.0 M490.0 537.5 L492.5 555.0 L487.5 570.0 L482.5 580.0 L490.0 595.0 M209.0 525.0 L225.0 530.0 L237.5 537.5 L240.0 550.0 L232.5 560.0 L225.0 570.0 L215.0 580.0 L209.0 582.5 M237.5 537.5 L261.2 533.8 M240.0 550.0 L262.5 550.0 M232.5 570.0 L262.5 570.0 M282.5 545.0 L287.5 555.0 L305.0 560.0 L320.0 567.5 M282.5 545.0 L272.5 530.0 M282.5 545.0 L300.0 530.0 M350.0 568.8 L360.0 580.0 L355.0 595.0 M382.5 567.5 L385.0 582.5 L400.0 595.0 M330.0 567.5 L325.0 582.5 L330.0 600.0 M407.5 560.0 L412.5 575.0 L425.0 585.0 M350.0 568.8 L366.2 567.5 M209.0 567.5 L230.0 570.0 L245.0 565.0 L265.0 570.0 L282.5 567.5 L310.0 570.0 L330.0 567.5 L365.0 568.8 L385.0 567.5 L407.5 560.0 M230.0 570.0 L227.5 592.5 M265.0 570.0 L262.5 595.0 M282.5 567.5 L280.0 585.0 L300.0 600.0 L315.0 592.5 L310.0 570.0 M330.0 567.5 L340.0 600.0 L350.0 610.0 L360.0 620.0 M365.0 568.8 L375.0 587.5 L365.0 605.0 L380.0 622.5 L375.0 642.5 L390.0 657.5 L385.0 675.0 M385.0 567.5 L392.5 582.5 L410.0 587.5 L435.0 580.0 L450.0 585.0 L465.0 577.5 L490.0 580.0 L500.0 560.0 M410.0 587.5 L407.5 610.0 L417.5 625.0 L440.0 635.0 L462.5 645.0 L460.0 660.0 L440.0 670.0 M450.0 585.0 L452.5 605.0 L465.0 615.0 L495.0 610.0 L520.0 607.5 M465.0 615.0 L462.5 645.0 M495.0 610.0 L502.5 635.0 L495.0 660.0 L507.5 675.0 M227.5 618.8 L227.5 635.0 L260.0 635.0 L262.5 618.8 M300.0 620.0 L305.0 635.0 L295.0 650.0 L275.0 655.0 L272.5 677.5 M305.0 635.0 L330.0 642.5 L350.0 635.0 L360.0 620.0 M330.0 642.5 L340.0 660.0 L360.0 670.0 L370.0 677.5 M407.5 610.0 L390.0 617.5 L380.0 622.5 M417.5 625.0 L400.0 642.5 L390.0 657.5 M209.0 642.5 L225.0 645.0 L240.0 660.0 L250.0 677.5"/></g>
<g stroke="#0d0d0d" stroke-width="1.3" fill="none" stroke-linejoin="round" stroke-linecap="round">
<path d="M209.0 137.8 L216.9 132.5 L226.3 126.9 L237.5 120.3 L248.8 115.6 L261.9 110.9 L275.0 107.2 L286.3 104.4 L297.5 102.5 L306.9 99.7 L316.3 95.9 L325.6 92.2 L335.0 88.4 L344.4 84.7 L351.9 82.8 L361.3 78.1 L370.6 73.4 L380.0 67.8 L389.4 62.2 L398.8 56.6 L406.3 50.9 L411.9 47.2 L415.6 42.5 L415.6 37.8 L411.9 35.9 L404.4 38.8 L396.9 38.8 L387.5 39.1 L376.3 39.3 L365.0 39.7 L353.8 40.6 L342.5 42.5 L331.3 44.4 L321.9 46.3 L312.5 50.0 L305.9 53.8 L302.2 57.5 L304.1 59.4 L312.5 59.8 L321.9 60.9 L331.3 62.2 L321.9 62.4 L312.5 61.6 L303.1 60.3 L293.8 59.0 L284.4 56.6 L275.0 54.7 L263.8 53.8 L252.5 54.1 L241.3 55.6 L230.0 59.4 L220.6 64.1 L209.0 70.6 M415.6 37.8 L414.1 31.3 L410.0 29.4 M351.9 82.8 L351.9 102.0 L667.5 102.0 M297.1 103.4 L297.1 265.8 L637.8 265.8 M637.8 265.9 L642.5 260.3 L650.0 257.5 L657.5 257.9 L661.3 261.3 M668.1 101.9 L674.7 107.5 L680.3 111.3 L686.9 114.1 L689.7 118.8 L689.1 124.4 L691.6 130.0 L695.3 135.6 L701.9 140.3 L709.4 143.1 L714.1 146.5 L715.4 149.1 L709.4 151.6 L704.7 156.3 L700.0 161.9 L694.4 167.5 L687.8 172.2 L684.6 176.9 L686.9 182.5 L684.1 187.2 L680.3 191.9 L679.4 199.4 L682.2 205.0 L687.8 208.8 L691.6 214.4 L696.3 217.2 L701.9 221.9 L707.5 228.4 L712.2 234.1 M712.2 234.0 L710.0 240.0 L697.5 246.3 L685.6 251.9 M715.4 149.1 L772.2 174.1 M769.0 152.5 L767.5 156.3 L771.3 161.9 L774.1 169.4 L773.1 175.0 L771.3 182.5 L767.5 190.0 L763.8 195.6 L757.2 201.3 L750.6 205.9 L746.9 210.6 L752.5 212.5 L761.9 214.4 L766.6 212.5 L768.4 220.0 L767.5 227.5 L765.6 235.0 M769.8 153.4 L772.4 161.9 L772.2 175.0 L769.4 186.3 M801.9 97.5 L801.3 111.3 L800.0 130.0 L798.8 145.0 L797.5 152.5 L799.4 152.5 L802.2 159.1 L786.3 166.6 L790.9 173.1 M801.9 98.5 L925.0 100.6 L952.5 101.0 L954.4 106.3 L957.5 111.3 L956.9 116.3 M925.0 100.6 L924.4 120.0 L923.8 143.8 L921.3 151.3 M818.6 30.0 L817.5 48.0 L843.8 49.0 L887.5 50.2 L931.3 51.3 L961.9 51.9 L972.8 45.8 L983.8 40.3 L992.5 37.0 L996.9 32.7 M817.5 48.0 L810.9 68.8 L805.5 86.3 L802.2 98.3 M872.2 30.5 L870.0 38.1 L871.1 44.7 L874.4 48.6 M996.9 32.7 L994.7 42.5 L996.9 51.3 L1005.6 54.5 L1007.8 57.8 L999.1 60.0 L992.5 65.5 L985.9 70.9 L981.6 76.4 L985.9 80.8 L992.5 83.0 L999.1 88.4 L1004.5 95.0 L1006.7 100.5 L1004.5 102.7 L1007.8 104.8 L1013.3 108.1 L1016.6 114.7 L1023.1 119.1 L1031.9 121.3 L1040.6 120.2 L1049.4 118.0 L1055.9 114.7 L1058.1 109.2 L1053.8 103.8 L1049.4 99.4 L1042.8 96.8 L1037.3 97.2 L1040.6 99.4 L1047.2 100.5 L1051.6 104.8 L1053.8 110.3 M771.3 190.0 L775.0 187.2 L780.6 182.5 L786.3 177.8 L790.9 173.1 L799.4 170.3 L808.8 167.5 L818.1 164.7 L827.5 160.9 L835.0 158.1 L843.4 153.4 L846.3 155.3 L855.6 154.8 L865.0 154.4 L874.4 154.0 L880.0 153.4 L890.0 152.5 L900.0 150.0 L910.0 150.0 L921.3 151.3 L935.0 148.0 L945.0 146.0 M769.4 193.8 L775.0 190.0 L782.5 185.3 L790.0 182.5 L799.4 179.7 L808.8 178.8 L818.1 177.8 L827.5 176.9 L836.9 177.8 L846.3 176.9 L855.6 175.9 L865.0 175.0 L874.4 172.2 L880.0 169.4 L882.5 167.5 L890.0 163.8 L885.0 170.0 L897.5 168.8 L903.8 167.5 L897.5 172.5 L890.0 175.0 L880.0 176.2 L867.5 178.8 L872.5 180.0 L887.5 178.8 L900.0 175.0 L910.0 171.2 L918.8 168.8 L915.0 172.5 L900.0 177.5 L885.0 182.5 L875.0 185.0 L855.0 188.8 L835.0 193.8 L815.0 198.8 L795.0 202.5 L780.0 203.8 L775.0 204.1 L767.5 205.0 L769.4 193.8 M956.9 116.2 L953.8 117.5 L952.5 122.5 L950.0 126.2 L951.2 135.0 L951.9 140.0 L955.0 140.6 L956.2 132.5 L955.6 125.0 L958.8 120.0 L962.5 122.5 L963.8 130.0 L965.0 138.8 L966.2 132.5 L967.5 125.0 L972.5 117.5 L968.8 125.0 L970.0 135.0 L976.2 136.9 L983.8 135.0 L990.0 130.0 L1000.0 125.0 M1000.0 117.5 L1006.7 115.8 L1010.0 121.7 L1005.0 125.0 L1000.0 128.3 M1000.0 130.0 L1010.0 130.0 L1018.3 131.7 L1028.3 128.3 L1035.0 129.2 L1043.3 126.7 L1053.3 123.3 L1057.5 119.2 M1000.0 149.2 L1006.7 144.2 L1011.7 141.7 L1013.3 145.8 L1018.3 144.2 L1020.8 146.7 L1016.7 148.3 L1010.0 147.5 L1003.3 150.0 L1000.0 150.8 M1034.2 152.5 L1041.7 155.0 L1048.3 156.7 L1055.0 155.8 L1055.8 152.5 L1051.7 148.3 L1050.0 146.7 L1049.2 151.7 L1043.3 153.3 L1034.2 152.5 M1055.0 128.3 L1052.5 135.0 M937.5 160.0 L941.2 158.0 L942.5 162.5 L938.8 163.8 L937.5 160.0 M907.5 156.2 L915.0 153.8 M637.8 266.5 L639.7 296.9 L642.5 328.8 L644.0 351.0 M680.0 357.6 L689.4 357.8 M685.6 251.9 L676.3 255.6 L665.0 260.3 L659.4 265.0 L653.8 268.8 L651.9 274.4 L654.7 281.9 L659.4 289.4 L665.0 298.8 L666.9 308.1 L668.8 315.6 L672.5 323.1 L678.1 328.8 L685.6 332.5 L688.4 338.1 L687.5 347.5 L689.4 355.0 L690.3 362.5 L685.6 370.0 L680.0 377.5 L680.0 377.5 M655.6 268.8 L659.4 278.1 L665.0 287.5 L672.5 295.0 L680.0 300.6 L685.6 304.4 L695.0 304.4 L700.6 306.3 L702.5 313.8 L698.8 321.3 L696.9 323.1 L704.4 319.4 L711.9 313.8 L715.6 308.1 L719.4 300.6 L725.0 295.0 L734.4 289.4 L740.0 281.9 L743.8 282.5 L750.0 275.0 L757.5 265.0 L760.0 260.0 L765.6 235.0 L767.5 227.5 M661.2 266.2 L656.2 271.2 L655.0 276.2 L657.5 281.2 L662.5 287.5 L670.0 292.5 L676.2 296.2 L680.0 298.8 M550.0 338.8 L542.5 342.5 L537.5 346.2 L535.6 351.0 M371.8 265.5 L371.8 302.5 L380.0 297.5 L390.0 291.2 L400.0 285.0 L412.5 278.8 L420.0 273.8 L423.8 277.5 L435.0 278.8 L447.5 275.0 L455.0 271.2 L465.0 267.5 L472.5 271.2 L482.5 273.8 L490.0 276.2 L493.8 282.5 L497.5 292.5 L500.0 295.0 L507.5 295.9 L515.0 301.6 L516.9 308.1 L524.4 311.9 L531.9 315.6 L539.4 320.3 L544.1 320.3 L550.6 318.4 L556.3 325.0 L549.7 330.6 L548.8 332.5 L545.0 338.1 L537.5 341.9 L531.9 345.6 L528.3 351.0 M544.1 320.3 L549.7 330.6 M626.2 275.0 L622.5 277.5 L617.5 278.1 L615.0 281.2 L616.2 285.0 L612.5 287.5 L607.5 288.8 L605.0 285.0 L602.5 290.0 L601.2 294.4 L597.5 291.9 L593.8 290.0 L596.2 295.0 L593.8 298.8 L590.0 302.5 L585.0 301.2 L581.2 299.4 L577.5 299.4 L581.2 301.9 L586.2 306.2 L590.0 308.8 L592.5 313.8 L590.0 316.2 L585.0 313.8 L581.2 314.4 L585.0 317.5 L588.8 320.0 L587.5 323.8 L583.8 322.5 L581.9 323.1 L585.0 326.2 L586.2 330.0 L583.8 332.5 L582.5 336.2 L583.8 341.2 L585.0 346.2 L585.6 351.0 M626.2 275.0 L628.8 277.5 L632.5 276.2 L633.8 277.5 L630.0 281.2 L627.5 283.8 L632.5 284.4 L628.8 285.0 L625.0 286.9 L621.2 289.4 L620.0 291.2 L633.1 291.2 M620.0 291.2 L615.0 291.9 L610.0 295.0 L606.2 300.0 L603.1 305.0 L603.8 308.8 L607.5 312.5 L612.5 310.0 L616.9 308.1 L613.8 311.9 L610.0 315.0 L607.5 317.5 L602.5 316.2 L598.8 318.8 L596.2 323.8 L595.6 328.8 L598.8 326.2 L602.5 323.8 L607.5 321.9 L611.2 323.8 L613.1 327.5 L610.0 326.2 L607.5 328.8 L610.0 332.5 L613.8 333.1 L610.0 335.0 L605.0 334.4 L601.2 331.2 L600.0 335.0 L597.5 337.5 L598.1 341.2 L601.2 337.5 L605.0 336.2 L607.5 340.0 L612.5 341.2 L615.0 343.8 L611.2 345.0 L615.0 347.5 L621.2 347.5 L625.0 343.8 L623.8 347.5 L618.8 350.0 L613.8 348.8 L608.8 347.5 L606.2 345.0 L602.5 347.5 L606.2 350.0 L606.8 351.0 M622.2 440.0 L621.9 441.3 L622.8 448.8 L627.5 453.4 L631.3 450.6 L629.4 445.0 L630.6 440.0 M680.0 377.5 L680.0 377.5 L685.6 370.0 M573.1 341.9 L574.0 351.0 M584.0 440.0 L588.1 443.1 L593.8 444.1 L599.4 448.8 L602.2 454.4 M540.0 440.0 L541.3 440.3 L552.5 442.2 L561.9 445.0 L571.3 450.6 L576.9 458.1 L584.4 463.8 L591.9 467.5 L599.4 465.6 L603.1 458.1 L599.4 452.5 L593.8 448.8 M599.4 465.6 L610.6 466.6 L621.9 467.5 L625.6 475.0 L628.0 481.0 M209.0 493.8 L530.0 493.8 M625.0 465.0 L629.0 481.0 M296.2 200.0 L290.0 202.5 L288.8 210.0 L291.2 220.0 L287.5 230.0 L285.0 240.0 L282.5 247.5 L277.5 255.0 L273.8 265.0 L273.8 267.5 L267.5 275.0 L257.5 281.2 L247.5 287.5 L237.5 292.5 L227.5 292.5 L220.0 297.5 L212.5 301.2 L209.0 303.8 M497.5 293.8 L490.0 306.2 L455.0 286.2 L450.0 295.0 L447.5 305.0 L440.0 312.5 L432.5 318.8 L425.0 323.8 L415.0 332.5 L407.5 328.8 L400.0 337.5 L395.0 347.5 L387.5 357.5 L375.0 355.0 L370.0 351.2 L362.5 348.8 L357.5 355.0 L355.0 365.0 L347.5 375.0 L340.0 385.0 L330.0 395.0 L322.5 402.5 L315.0 410.0 L317.5 417.5 L310.0 425.0 L300.0 430.0 L287.5 432.5 L275.0 431.2 L272.5 430.0 L260.0 437.5 L247.5 441.3 L235.0 445.0 L225.0 442.5 L215.0 445.0 L209.0 443.8 M209.0 488.8 L215.0 492.5 L211.2 495.0 L211.2 507.5 L209.0 508.8 M209.0 592.5 L258.8 594.3 L260.0 600.0 L266.0 597.5 L277.5 607.5 L278.8 618.0 L358.8 619.5 L427.5 677.0 M573.8 350.0 L574.4 355.0 L577.5 358.8 L582.5 361.9 L587.5 364.4 L591.2 366.9 L593.8 370.6 L596.2 375.0 L598.1 381.2 L598.8 386.2 L595.0 381.2 L591.2 376.9 L587.5 371.2 L583.8 366.2 L578.8 362.5 L575.0 358.8 L573.1 353.8 L572.8 350.0 M585.0 350.0 L588.1 356.2 L592.5 361.2 L595.0 367.5 L597.5 375.0 L598.8 381.2 L598.8 386.2 M532.5 350.0 L530.0 352.5 L526.2 358.8 L525.0 360.0 L527.5 365.0 L536.2 363.8 L542.5 361.2 L546.9 356.2 L549.4 362.5 L546.9 366.2 L551.2 371.2 L557.5 374.4 L560.6 370.0 L561.2 362.5 L563.8 368.8 L565.0 372.5 L572.5 373.1 L580.0 374.4 L586.2 378.8 L590.0 376.2 L592.5 381.2 L590.0 385.0 L587.5 388.8 L593.8 391.2 L600.0 394.4 L604.4 397.5 L605.0 401.2 L601.2 402.5 L600.0 406.2 L602.5 408.8 L600.0 415.0 L595.0 412.5 L590.0 411.2 L587.5 413.8 L593.8 417.5 L600.0 418.8 L601.2 422.5 L597.5 423.8 L600.0 426.2 L603.8 427.5 L604.4 432.5 L602.5 437.5 L600.0 440.0 M540.6 378.1 L547.5 380.0 L553.8 385.0 L557.5 390.0 L562.5 395.0 L567.5 400.0 L572.5 403.8 L578.8 408.8 L583.8 413.8 L587.5 415.0 M541.9 379.4 L550.0 383.8 L556.2 391.2 L563.8 398.8 L571.2 405.0 L580.0 412.5 L586.2 416.2 M565.0 424.4 L570.0 428.8 L575.0 435.0 L580.0 440.0 M563.8 425.6 L568.1 431.2 L572.5 437.5 L575.0 440.0 M606.2 350.0 L601.2 353.8 L600.0 355.6 L605.0 361.2 L606.9 366.2 L607.5 362.5 L611.2 365.0 L616.2 370.0 L620.0 372.5 L621.2 367.5 L623.8 363.8 L626.2 368.8 L630.0 363.8 L633.1 361.2 L631.2 366.2 L630.0 371.2 L635.0 373.1 L630.0 375.0 L626.2 378.8 L628.8 380.6 L635.0 379.4 L638.8 382.5 L635.0 385.0 L631.2 387.5 L631.2 392.5 L635.0 393.8 L641.2 392.5 L646.2 391.9 L647.5 393.8 L643.8 396.2 L645.0 400.0 L641.2 402.5 L637.5 405.0 L636.2 410.0 L632.5 412.5 L630.0 417.5 L627.5 422.5 L625.0 427.5 L623.8 433.8 L622.5 440.0 M646.2 391.9 L655.0 390.0 L665.0 389.4 M680.0 371.9 L676.2 375.0 L672.5 381.2 L667.5 385.0 L665.0 389.4 L663.8 396.2 L667.5 398.8 L671.2 393.8 L676.2 386.2 L680.0 380.0 M663.8 396.2 L658.8 401.2 L652.5 408.8 L646.2 416.2 L640.0 423.8 L635.0 430.0 L631.2 436.2 L630.0 440.0 M650.0 420.6 L646.2 427.5 L643.1 433.8 M616.2 376.9 L618.8 375.6 L620.0 378.1 L617.5 379.0 L616.2 376.9 M619.4 387.5 L621.9 390.0 L620.6 395.0 L618.8 391.2 L619.4 387.5 M643.8 351.0 L644.4 356.9 L680.0 356.9 M530.0 493.6 L625.7 493.6 M625.7 481.8 L628.4 487.2 L631.1 496.3 L635.6 507.1 L640.2 517.9 L645.6 528.8 L651.0 537.8 L656.4 546.8 L659.1 555.8 L660.4 566.7 L659.1 577.5 L656.4 586.5 L645.6 590.2 L640.0 592.5 M624.8 485.4 L627.5 496.3 L631.1 507.1 L636.5 519.7 L642.9 531.5 L649.2 541.4 L654.6 550.4 L657.3 559.5 M619.4 492.6 L622.1 499.9 L625.7 508.9 L628.4 516.1 L631.1 523.3 L636.5 527.0 M571.5 512.5 L568.8 517.9 L567.9 525.1 L570.6 532.4 L569.7 536.9 L577.0 536.0 L584.2 534.2 L592.3 530.6 L599.5 527.0 L595.0 523.3 L588.7 519.7 L596.8 522.4 L604.0 526.0 L607.7 524.2 L602.2 518.8 L609.5 522.4 L615.8 521.5 L618.5 518.8 L613.1 515.2 L607.7 511.6 L614.9 514.3 L622.1 517.9 L627.5 520.6 L631.1 523.3 M572.4 512.5 L573.7 521.5 L572.3 528.8 L577.0 532.4 M569.7 536.9 L580.6 537.8 L591.4 536.0 L600.4 538.7 L602.2 535.1 L609.5 534.2 L616.7 534.2 L620.3 536.9 L616.7 541.4 L614.9 546.8 L616.7 551.3 L614.0 555.8 L618.5 557.7 L620.3 552.2 L622.1 545.0 L623.9 540.5 L631.1 536.9 L636.5 538.7 L640.2 545.0 L642.0 552.2 L640.2 559.5 L634.7 564.0 L629.3 562.2 L625.7 566.7 L620.4 572.0 M587.8 572.0 L589.6 568.5 L582.4 567.6 L577.0 570.3 L578.1 572.0 M562.8 572.0 L557.1 570.3 L547.2 568.1 L553.3 572.0 M642.0 537.8 L645.6 539.6 L649.2 545.0 L646.5 543.2 L642.9 540.5 L642.0 537.8 M640.0 591.1 L630.6 594.2 L622.8 598.1 L616.6 602.0 L611.9 605.9 M607.2 609.8 L602.5 613.0 L596.2 618.4 L590.0 624.7 L585.3 631.7 L583.8 634.1 L580.6 630.9 L574.4 627.8 L568.1 625.5 L558.8 625.5 L549.4 627.8 L543.1 629.4 L533.8 632.5 L527.5 636.4 L524.4 639.5 L518.1 641.1 L511.9 644.2 L505.6 648.9 L499.4 654.4 L493.9 660.6 L490.0 666.9 L486.9 673.1 L486.1 677.0 M585.3 631.7 L588.4 624.7 L593.1 620.0 L597.8 615.3 L602.5 609.1 L600.9 605.2 L597.0 603.6 L597.8 609.1 L594.7 610.6 L590.8 607.5 L589.2 601.2 L586.9 605.9 L587.7 609.8 L583.0 609.1 L580.6 605.2 L577.5 607.5 L569.7 611.4 L567.3 611.4 L561.9 608.3 L555.6 604.4 L550.9 600.5 L547.0 595.0 L544.7 594.2 L547.8 599.7 L552.5 605.2 L558.8 609.1 L567.3 609.8 L572.8 606.7 L579.1 601.2 L582.2 595.8 L577.5 593.4 L574.4 592.7 L579.1 590.3 L585.3 589.5 L587.7 585.6 L583.8 582.5 L577.5 580.9 L569.7 577.8 L561.9 574.7 L554.1 572.3 L549.4 570.0 M550.9 571.9 L558.8 573.1 L568.1 575.5 L575.9 574.7 L579.1 576.2 L577.5 572.2 L580.6 571.9 M583.8 571.9 L590.0 574.7 L594.7 573.1 L596.2 577.8 L602.5 578.6 L610.3 579.4 L616.6 577.0 L621.2 573.1 L623.6 571.9 M524.4 639.5 L525.2 634.8 L521.2 631.7 L522.8 627.8 L519.7 623.9 L518.9 627.8 L521.2 630.9 L518.9 633.3 L519.7 636.4 L524.4 638.8 M533.8 632.5 L536.9 628.6 L541.6 627.0 L542.3 623.9 L543.1 629.4 M568.1 625.5 L569.7 620.8 L574.4 621.6 L572.8 626.2 M574.4 627.8 L577.5 623.1 L578.3 620.0 L580.6 624.7 L585.3 626.2 M480.6 663.8 L482.2 670.0 L483.0 677.0 M485.3 677.0 L486.9 670.0 L490.0 665.3 M505.6 648.6 L513.4 643.9 L524.4 639.2"/>
</g>
<g stroke="#1c2a2a" stroke-width="1.0" fill="#5aa9a0" fill-opacity="0.5" stroke-linejoin="round">
<path d="M523.8 51.9 L527.5 45.0 L531.2 38.8 L532.5 40.0 L528.8 46.2 L525.0 52.8 L523.8 51.9 Z M535.0 71.9 L540.0 65.0 L543.1 57.5 L545.6 55.6 L544.4 60.0 L541.9 66.2 L536.9 71.2 L535.0 71.9 Z M551.9 40.0 L553.1 48.8 L556.2 56.2 L556.9 65.0 L560.0 73.8 L558.8 66.2 L559.4 56.2 L555.6 47.5 L553.1 40.0 L551.9 40.0 Z M568.8 34.4 L566.9 43.8 L570.0 52.5 L575.0 60.0 L581.2 65.0 L585.0 67.5 L583.8 63.8 L577.5 58.8 L572.5 52.5 L569.4 44.4 L570.0 35.0 L568.8 34.4 Z M583.1 36.2 L585.0 42.5 L588.1 46.9 L586.2 40.6 L583.1 36.2 Z M591.2 33.8 L595.0 40.0 L601.9 45.6 L596.2 38.8 L591.2 33.8 Z"/>
</g>
<rect x="604" y="663" width="470" height="15" fill="#ffffff" fill-opacity="0.85"/>
<text class="cp" x="610.3" y="672.5" textLength="455.5" lengthAdjust="spacingAndGlyphs" style="font-family:'Liberation Sans',sans-serif;font-size:7.4px;stroke:#222;stroke-width:0.12px">© 2026 European Centre for Medium-Range Weather Forecasts (ECMWF). This service is based on data and products of the ECMWF.</text>
<g><ellipse cx="236" cy="644" rx="17.5" ry="10" transform="rotate(24 236 644)" fill="#a9a9a9"/><ellipse cx="237" cy="644" rx="21" ry="12.5" transform="rotate(24 237 644)" fill="none" stroke="#b4b4b6" stroke-width="2"/><ellipse cx="237.5" cy="644" rx="24" ry="15" transform="rotate(24 237.5 644)" fill="none" stroke="#cfcfd4" stroke-width="1.7"/>
<text x="227" y="646.6" style="font-family:'Liberation Serif',serif;font-size:8px;fill:#4a4a4a">W<tspan font-size="5.6px" textLength="24.5" lengthAdjust="spacingAndGlyphs">EATHER</tspan></text><text x="260.4" y="646.6" style="font-family:'Liberation Serif',serif;font-size:8.6px;fill:#4a4a4a;stroke:#4a4a4a;stroke-width:0.25px" textLength="25.8" lengthAdjust="spacing">BELL</text><path d="M260.5 649.4 H286" stroke="#999" stroke-width="0.7" stroke-dasharray="2.2 0.6"/></g>
<path d="M223 671.2 L232 672 M231 669.5 L232.5 676.5 M229.5 674 L238 671 M237.5 668.8 L237 675.5 L246 675.2 C248.5 674 248 672 245 672 C248 671.5 247.5 668.6 243.5 669.5" stroke="#1a1a1a" stroke-width="0.9" fill="none" stroke-linejoin="round"/>
</g>
<path d="M1071.6 30.1 L209.1 30.1 L209.1 677.4 L1071.6 677.4" fill="none" stroke="#111" stroke-width="1.1"/><path d="M1071.4 30.1 L1071.4 677.4" fill="none" stroke="#111" stroke-opacity="0.25" stroke-width="0.8"/>
<text class="t" x="219" y="23.6"><tspan class="b" textLength="103.3" lengthAdjust="spacingAndGlyphs">ECMWF Ens 0.1</tspan><tspan dy="-3.6" font-size="8.5px">°</tspan><tspan dy="3.6" dx="5.6" textLength="115.2" lengthAdjust="spacingAndGlyphs" style="font-family:'Liberation Sans',sans-serif;stroke:#1c1c1c;stroke-width:0.22px">Init 06z 18 Feb 2026</tspan></text>
<text class="t" x="452.6" y="23.6" style="font-family:'Liberation Sans',sans-serif;stroke:#1c1c1c;stroke-width:0.22px">•</text>
<text class="t" x="462.5" y="23.6" textLength="263.8" lengthAdjust="spacingAndGlyphs" style="font-family:'Liberation Sans',sans-serif;stroke:#1c1c1c;stroke-width:0.22px">Probability of Total Snowfall (10:1) ≥ 3 in. (%)</text>
<text class="t b" x="822.7" y="23.6" textLength="31.3" lengthAdjust="spacingAndGlyphs">Hour</text>
<text class="t" x="854.6" y="23.6" textLength="27.4" lengthAdjust="spacingAndGlyphs" style="font-family:'Liberation Sans',sans-serif;stroke:#1c1c1c;stroke-width:0.22px">: 132</text>
<text class="t" x="887.2" y="23.6" style="font-family:'Liberation Sans',sans-serif;stroke:#1c1c1c;stroke-width:0.22px">•</text>
<text class="t b" x="897.3" y="23.6" textLength="34.5" lengthAdjust="spacingAndGlyphs">Valid</text>
<text class="t" x="932.6" y="23.6" textLength="128.2" lengthAdjust="spacingAndGlyphs" style="font-family:'Liberation Sans',sans-serif;stroke:#1c1c1c;stroke-width:0.22px">: 18z Mon 23 Feb 2026</text>
<text class="ll" x="261.0" y="38.6" text-anchor="middle">81<tspan dy="-2.4" font-size="6.2px">°</tspan><tspan dy="2.4">W</tspan></text>
<text class="ll" x="333.0" y="38.6" text-anchor="middle">80<tspan dy="-2.4" font-size="6.2px">°</tspan><tspan dy="2.4">W</tspan></text>
<text class="ll" x="405.0" y="38.6" text-anchor="middle">79<tspan dy="-2.4" font-size="6.2px">°</tspan><tspan dy="2.4">W</tspan></text>
<text class="ll" x="477.0" y="38.6" text-anchor="middle">78<tspan dy="-2.4" font-size="6.2px">°</tspan><tspan dy="2.4">W</tspan></text>
<text class="ll" x="549.0" y="38.6" text-anchor="middle">77<tspan dy="-2.4" font-size="6.2px">°</tspan><tspan dy="2.4">W</tspan></text>
<text class="ll" x="621.0" y="38.6" text-anchor="middle">76<tspan dy="-2.4" font-size="6.2px">°</tspan><tspan dy="2.4">W</tspan></text>
<text class="ll" x="693.0" y="38.6" text-anchor="middle">75<tspan dy="-2.4" font-size="6.2px">°</tspan><tspan dy="2.4">W</tspan></text>
<text class="ll" x="765.0" y="38.6" text-anchor="middle">74<tspan dy="-2.4" font-size="6.2px">°</tspan><tspan dy="2.4">W</tspan></text>
<text class="ll" x="837.0" y="38.6" text-anchor="middle">73<tspan dy="-2.4" font-size="6.2px">°</tspan><tspan dy="2.4">W</tspan></text>
<text class="ll" x="909.0" y="38.6" text-anchor="middle">72<tspan dy="-2.4" font-size="6.2px">°</tspan><tspan dy="2.4">W</tspan></text>
<text class="ll" x="981.0" y="38.6" text-anchor="middle">71<tspan dy="-2.4" font-size="6.2px">°</tspan><tspan dy="2.4">W</tspan></text>
<text class="ll" x="1053.0" y="38.6" text-anchor="middle">70<tspan dy="-2.4" font-size="6.2px">°</tspan><tspan dy="2.4">W</tspan></text>
<text class="ll" x="1069.3" y="104.7" text-anchor="end">42<tspan dy="-2.4" font-size="6.2px">°</tspan><tspan dy="2.4">N</tspan></text>
<text class="ll" x="1069.3" y="176.7" text-anchor="end">41<tspan dy="-2.4" font-size="6.2px">°</tspan><tspan dy="2.4">N</tspan></text>
<text class="ll" x="1069.3" y="248.7" text-anchor="end">40<tspan dy="-2.4" font-size="6.2px">°</tspan><tspan dy="2.4">N</tspan></text>
<text class="ll" x="1069.3" y="320.7" text-anchor="end">39<tspan dy="-2.4" font-size="6.2px">°</tspan><tspan dy="2.4">N</tspan></text>
<text class="ll" x="1069.3" y="392.7" text-anchor="end">38<tspan dy="-2.4" font-size="6.2px">°</tspan><tspan dy="2.4">N</tspan></text>
<text class="ll" x="1069.3" y="464.7" text-anchor="end">37<tspan dy="-2.4" font-size="6.2px">°</tspan><tspan dy="2.4">N</tspan></text>
<text class="ll" x="1069.3" y="536.7" text-anchor="end">36<tspan dy="-2.4" font-size="6.2px">°</tspan><tspan dy="2.4">N</tspan></text>
<text class="ll" x="1069.3" y="608.7" text-anchor="end">35<tspan dy="-2.4" font-size="6.2px">°</tspan><tspan dy="2.4">N</tspan></text>
<rect x="222.20" y="693.8" width="60.68" height="12.2" fill="#ffffff"/>
<rect x="282.58" y="693.8" width="60.68" height="12.2" fill="#5e4fa2"/>
<rect x="342.96" y="693.8" width="60.68" height="12.2" fill="#3288bd"/>
<rect x="403.34" y="693.8" width="60.68" height="12.2" fill="#66c2a5"/>
<rect x="463.72" y="693.8" width="60.68" height="12.2" fill="#abdda4"/>
<rect x="524.10" y="693.8" width="60.68" height="12.2" fill="#ffffbf"/>
<rect x="584.48" y="693.8" width="60.68" height="12.2" fill="#fee08b"/>
<rect x="644.86" y="693.8" width="60.68" height="12.2" fill="#fdae61"/>
<rect x="705.24" y="693.8" width="60.68" height="12.2" fill="#f46d43"/>
<rect x="765.62" y="693.8" width="60.38" height="12.2" fill="#9e0142"/>
<rect x="222.20" y="693.8" width="603.80" height="12.2" fill="none" stroke="#333" stroke-width="0.8"/>
<text class="cb" x="222.2" y="690.4" text-anchor="middle" style="font-family:'Liberation Sans',sans-serif;stroke:#1c1c1c;stroke-width:0.22px">0</text>
<text class="cb" x="282.6" y="690.4" text-anchor="middle" style="font-family:'Liberation Sans',sans-serif;stroke:#1c1c1c;stroke-width:0.22px">10</text>
<text class="cb" x="343.0" y="690.4" text-anchor="middle" style="font-family:'Liberation Sans',sans-serif;stroke:#1c1c1c;stroke-width:0.22px">20</text>
<text class="cb" x="403.3" y="690.4" text-anchor="middle" style="font-family:'Liberation Sans',sans-serif;stroke:#1c1c1c;stroke-width:0.22px">30</text>
<text class="cb" x="463.7" y="690.4" text-anchor="middle" style="font-family:'Liberation Sans',sans-serif;stroke:#1c1c1c;stroke-width:0.22px">40</text>
<text class="cb" x="524.1" y="690.4" text-anchor="middle" style="font-family:'Liberation Sans',sans-serif;stroke:#1c1c1c;stroke-width:0.22px">50</text>
<text class="cb" x="584.5" y="690.4" text-anchor="middle" style="font-family:'Liberation Sans',sans-serif;stroke:#1c1c1c;stroke-width:0.22px">60</text>
<text class="cb" x="644.9" y="690.4" text-anchor="middle" style="font-family:'Liberation Sans',sans-serif;stroke:#1c1c1c;stroke-width:0.22px">70</text>
<text class="cb" x="705.2" y="690.4" text-anchor="middle" style="font-family:'Liberation Sans',sans-serif;stroke:#1c1c1c;stroke-width:0.22px">80</text>
<text class="cb" x="765.6" y="690.4" text-anchor="middle" style="font-family:'Liberation Sans',sans-serif;stroke:#1c1c1c;stroke-width:0.22px">90</text>
<text class="cb" x="826.0" y="690.4" text-anchor="middle" style="font-family:'Liberation Sans',sans-serif;stroke:#1c1c1c;stroke-width:0.22px">100</text>
</svg></body></html>
